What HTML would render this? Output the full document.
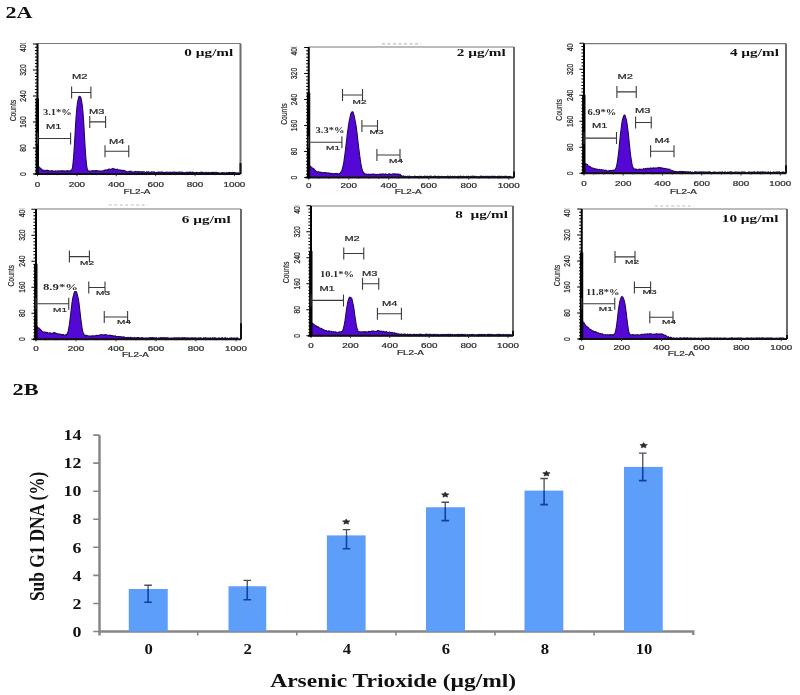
<!DOCTYPE html>
<html><head><meta charset="utf-8"><style>
html,body{margin:0;padding:0;background:#fff;width:800px;height:695px;overflow:hidden}
svg{display:block;filter:blur(0.45px)}
</style></head><body>
<svg width="800" height="695" viewBox="0 0 800 695">
<rect width="800" height="695" fill="#fff"/>
<text transform="translate(5.5,17.5) scale(1.38,1)" font-family="Liberation Serif" font-size="16" font-weight="bold" fill="#111" text-anchor="start" >2A</text>
<path d="M37.5,43.5H240.5" stroke="#7a7a7a" stroke-width="1.2" fill="none"/>
<path d="M240.5,43.5V174" stroke="#6c6c6c" stroke-width="2" fill="none"/>
<path d="M37.5,174 L37.5,166.16 L38,166.44 L38.5,166.24 L39,167.2 L39.5,167.21 L40,167.8 L40.5,168.52 L41,168.55 L41.5,169.41 L42,169.49 L42.5,170.25 L43,170.67 L43.5,170.4 L44,170.08 L44.5,170.75 L45,170.7 L45.5,170.37 L46,170.12 L46.5,170.49 L47,170.69 L47.5,170.2 L48,171.08 L48.5,170.38 L49,170.93 L49.5,171.1 L50,171.16 L50.5,171.02 L51,170.6 L51.5,171.21 L52,170.89 L52.5,170.87 L53,171.11 L53.5,170.96 L54,171.39 L54.5,171.4 L55,171.26 L55.5,170.84 L56,171.07 L56.5,171.17 L57,170.92 L57.5,171.04 L58,171.18 L58.5,170.74 L59,170.82 L59.5,171.23 L60,170.93 L60.5,170.98 L61,170.66 L61.5,170.79 L62,171.19 L62.5,170.57 L63,171.34 L63.5,171.07 L64,170.77 L64.5,171.31 L65,171.01 L65.5,171.41 L66,170.85 L66.5,170.76 L67,170.93 L67.5,170.66 L68,171.17 L68.5,170.82 L69,170.91 L69.5,170.92 L70,171.02 L70.5,170.62 L71,170.36 L71.5,170.33 L72,169.12 L72.5,167.64 L73,163.62 L73.5,158.52 L74,151.36 L74.5,143.34 L75,135.01 L75.5,126.26 L76,118.2 L76.5,112.26 L77,106.75 L77.5,103.16 L78,100.37 L78.5,98.4 L79,96.43 L79.5,96.39 L80,96.35 L80.5,96.98 L81,98.01 L81.5,100.9 L82,103.59 L82.5,107.58 L83,112.68 L83.5,119.53 L84,127.51 L84.5,136.79 L85,145.41 L85.5,153.42 L86,159.48 L86.5,164.21 L87,168.06 L87.5,169.82 L88,170.65 L88.5,171.02 L89,170.93 L89.5,170.87 L90,171.16 L90.5,171.39 L91,171.01 L91.5,171.05 L92,170.87 L92.5,170.51 L93,170.74 L93.5,170.89 L94,170.79 L94.5,170.73 L95,171.29 L95.5,170.52 L96,170.62 L96.5,170.53 L97,170.59 L97.5,170.95 L98,170.94 L98.5,171.2 L99,170.71 L99.5,171.22 L100,171.21 L100.5,171.08 L101,171.11 L101.5,170.94 L102,171.11 L102.5,171.06 L103,170.83 L103.5,170.78 L104,170.45 L104.5,170.65 L105,169.79 L105.5,169.93 L106,170.26 L106.5,170.07 L107,169.89 L107.5,169.78 L108,169.9 L108.5,169.15 L109,168.92 L109.5,169.3 L110,169.19 L110.5,169.45 L111,169.34 L111.5,169.03 L112,169.01 L112.5,168.4 L113,169.1 L113.5,169.32 L114,168.57 L114.5,169.05 L115,169.48 L115.5,169.22 L116,169.78 L116.5,169.42 L117,169.11 L117.5,169.31 L118,169.55 L118.5,170.03 L119,170.03 L119.5,170.31 L120,169.86 L120.5,170.16 L121,170.04 L121.5,170.53 L122,170.72 L122.5,170.29 L123,170.22 L123.5,170.44 L124,170.57 L124.5,170.65 L125,170.82 L125.5,171.37 L126,171.2 L126.5,171.44 L127,171.83 L127.5,171.92 L128,171.72 L128.5,171.75 L129,171.38 L129.5,171.16 L130,171.63 L130.5,171.21 L131,171.18 L131.5,171.23 L132,171.78 L132.5,171.93 L133,171.94 L133.5,171.98 L134,171.99 L134.5,171.63 L135,171.4 L135.5,171.47 L136,171.82 L136.5,171.68 L137,171.56 L137.5,172.22 L138,171.72 L138.5,171.52 L139,171.65 L139.5,171.69 L140,171.96 L140.5,172.24 L141,171.71 L141.5,172.14 L142,171.74 L142.5,171.6 L143,172.14 L143.5,172.15 L144,171.68 L144.5,171.89 L145,172.41 L145.5,172.47 L146,172.46 L146.5,171.8 L147,171.91 L147.5,172.52 L148,171.91 L148.5,171.77 L149,172.07 L149.5,172.35 L150,172.17 L150.5,172.55 L151,172.66 L151.5,171.8 L152,172.09 L152.5,172.21 L153,171.85 L153.5,172.3 L154,171.91 L154.5,171.95 L155,172.51 L155.5,172.48 L156,172.44 L156.5,172.49 L157,172.18 L157.5,172.48 L158,172.34 L158.5,172.6 L159,171.91 L159.5,172.41 L160,172.32 L160.5,172.21 L161,171.92 L161.5,172.36 L162,171.92 L162.5,172.3 L163,172.27 L163.5,172.28 L164,172.74 L164.5,172.36 L165,172.6 L165.5,172.76 L166,172.05 L166.5,172.62 L167,172.35 L167.5,172.13 L168,172.28 L168.5,172.49 L169,172.32 L169.5,172.29 L170,172.09 L170.5,172.7 L171,172.3 L171.5,172.58 L172,172.56 L172.5,172.12 L173,172.36 L173.5,172.31 L174,172.14 L174.5,172 L175,172.43 L175.5,172.28 L176,172.38 L176.5,172.38 L177,172.22 L177.5,172.44 L178,172.37 L178.5,172.42 L179,172.01 L179.5,172.23 L180,172.07 L180.5,172.02 L181,172.63 L181.5,172.37 L182,172.03 L182.5,172.12 L183,172.76 L183.5,172.78 L184,172.49 L184.5,172.83 L185,172.68 L185.5,172.83 L186,172.3 L186.5,172.2 L187,172.1 L187.5,172.77 L188,172.27 L188.5,172.32 L189,172.79 L189.5,172.13 L190,172.06 L190.5,172.73 L191,172.08 L191.5,172.58 L192,172.5 L192.5,172.05 L193,172.2 L193.5,172.8 L194,172.56 L194.5,172.49 L195,172.65 L195.5,172.79 L196,172.68 L196.5,172.32 L197,172.96 L197.5,172.48 L198,172.58 L198.5,172.97 L199,172.69 L199.5,172.43 L200,172.53 L200.5,172.94 L201,172.11 L201.5,172.29 L202,172.13 L202.5,172.91 L203,172.77 L203.5,172.98 L204,172.32 L204.5,172.78 L205,172.91 L205.5,172.65 L206,172.21 L206.5,172.3 L207,172.81 L207.5,172.91 L208,172.22 L208.5,172.53 L209,172.42 L209.5,172.97 L210,173.01 L210.5,172.44 L211,172.68 L211.5,173 L212,172.23 L212.5,172.5 L213,172.36 L213.5,173.01 L214,172.31 L214.5,173.03 L215,172.31 L215.5,172.69 L216,172.79 L216.5,172.6 L217,172.27 L217.5,172.87 L218,172.99 L218.5,172.64 L219,172.9 L219.5,173.02 L220,172.98 L220.5,173.08 L221,172.95 L221.5,172.85 L222,172.86 L222.5,172.46 L223,172.88 L223.5,172.7 L224,172.99 L224.5,172.84 L225,173.14 L225.5,172.93 L226,173.15 L226.5,172.51 L227,172.67 L227.5,173 L228,172.75 L228.5,172.34 L229,173.09 L229.5,172.45 L230,172.8 L230.5,172.75 L231,172.44 L231.5,172.84 L232,172.75 L232.5,172.59 L233,172.32 L233.5,172.9 L234,172.47 L234.5,172.58 L235,172.65 L235.5,172.86 L236,172.91 L236.5,173.18 L237,173.12 L237.5,173.17 L238,172.57 L238.5,173.01 L239,173.1 L239.5,173.17 L239.5,174 Z" fill="#5308d6" stroke="#22085a" stroke-width="1.1" stroke-linejoin="round"/>
<path d="M240.5,174V163" stroke="#111" stroke-width="2"/>
<path d="M34.5,174H240.5" stroke="#101010" stroke-width="2.1" fill="none"/>
<path d="M37.5,174V176.2 M47.34,174V175.2 M57.19,174V175.2 M67.03,174V175.2 M76.88,174V176.2 M86.72,174V175.2 M96.57,174V175.2 M106.41,174V175.2 M116.26,174V176.2 M126.1,174V175.2 M135.95,174V175.2 M145.8,174V175.2 M155.64,174V176.2 M165.49,174V175.2 M175.33,174V175.2 M185.17,174V175.2 M195.02,174V176.2 M204.86,174V175.2 M214.71,174V175.2 M224.55,174V175.2 M234.4,174V176.2" stroke="#222" stroke-width="0.9"/>
<path d="M37.5,43.5V175" stroke="#000" stroke-width="2" fill="none"/>
<path d="M37.3,98.5V174" stroke="#000" stroke-width="3.4" fill="none"/>
<path d="M32.9,174H37.5 M34.9,170.75H37.5 M34.9,167.5H37.5 M34.9,164.25H37.5 M34.9,161H37.5 M34.9,157.75H37.5 M34.9,154.5H37.5 M34.9,151.25H37.5 M32.9,148H37.5 M34.9,144.75H37.5 M34.9,141.5H37.5 M34.9,138.25H37.5 M34.9,135H37.5 M34.9,131.75H37.5 M34.9,128.5H37.5 M34.9,125.25H37.5 M32.9,122H37.5 M34.9,118.75H37.5 M34.9,115.5H37.5 M34.9,112.25H37.5 M34.9,109H37.5 M34.9,105.75H37.5 M34.9,102.5H37.5 M34.9,99.25H37.5 M32.9,96H37.5 M34.9,92.75H37.5 M34.9,89.5H37.5 M34.9,86.25H37.5 M34.9,83H37.5 M34.9,79.75H37.5 M34.9,76.5H37.5 M34.9,73.25H37.5 M32.9,70H37.5 M34.9,66.75H37.5 M34.9,63.5H37.5 M34.9,60.25H37.5 M34.9,57H37.5 M34.9,53.75H37.5 M34.9,50.5H37.5 M34.9,47.25H37.5 M32.9,44H37.5" stroke="#000" stroke-width="1.1"/>
<clipPath id="c37"><rect x="-2.5" y="43.2" width="40" height="200"/></clipPath>
<text transform="translate(26.2,174) rotate(-90) scale(1,1.3)" font-family="Liberation Sans" font-size="6.8" fill="#2a2a2a" stroke="#2a2a2a" stroke-width="0.2" text-anchor="middle">0</text>
<text transform="translate(26.2,148) rotate(-90) scale(1,1.3)" font-family="Liberation Sans" font-size="6.8" fill="#2a2a2a" stroke="#2a2a2a" stroke-width="0.2" text-anchor="middle">80</text>
<text transform="translate(26.2,122) rotate(-90) scale(1,1.3)" font-family="Liberation Sans" font-size="6.8" fill="#2a2a2a" stroke="#2a2a2a" stroke-width="0.2" text-anchor="middle">160</text>
<text transform="translate(26.2,96) rotate(-90) scale(1,1.3)" font-family="Liberation Sans" font-size="6.8" fill="#2a2a2a" stroke="#2a2a2a" stroke-width="0.2" text-anchor="middle">240</text>
<text transform="translate(26.2,70) rotate(-90) scale(1,1.3)" font-family="Liberation Sans" font-size="6.8" fill="#2a2a2a" stroke="#2a2a2a" stroke-width="0.2" text-anchor="middle">320</text>
<g clip-path="url(#c37)"><text transform="translate(26.2,46.3) rotate(-90) scale(1,1.3)" font-family="Liberation Sans" font-size="6.8" fill="#2a2a2a" stroke="#2a2a2a" stroke-width="0.2" text-anchor="middle">400</text></g>
<text transform="translate(15.9,110.6) rotate(-90) scale(1,1.2)" font-family="Liberation Sans" font-size="6.8" fill="#2a2a2a" stroke="#2a2a2a" stroke-width="0.15" text-anchor="middle">Counts</text>
<text transform="translate(37.5,186.5) scale(1.45,1)" font-family="Liberation Sans" font-size="6.8" font-weight="normal" fill="#2a2a2a" text-anchor="middle" stroke="#2a2a2a" stroke-width="0.2">0</text>
<text transform="translate(76.88,186.5) scale(1.45,1)" font-family="Liberation Sans" font-size="6.8" font-weight="normal" fill="#2a2a2a" text-anchor="middle" stroke="#2a2a2a" stroke-width="0.2">200</text>
<text transform="translate(116.26,186.5) scale(1.45,1)" font-family="Liberation Sans" font-size="6.8" font-weight="normal" fill="#2a2a2a" text-anchor="middle" stroke="#2a2a2a" stroke-width="0.2">400</text>
<text transform="translate(155.64,186.5) scale(1.45,1)" font-family="Liberation Sans" font-size="6.8" font-weight="normal" fill="#2a2a2a" text-anchor="middle" stroke="#2a2a2a" stroke-width="0.2">600</text>
<text transform="translate(195.02,186.5) scale(1.45,1)" font-family="Liberation Sans" font-size="6.8" font-weight="normal" fill="#2a2a2a" text-anchor="middle" stroke="#2a2a2a" stroke-width="0.2">800</text>
<text transform="translate(234.4,186.5) scale(1.45,1)" font-family="Liberation Sans" font-size="6.8" font-weight="normal" fill="#2a2a2a" text-anchor="middle" stroke="#2a2a2a" stroke-width="0.2">1000</text>
<text transform="translate(137,193.5) scale(1.45,1)" font-family="Liberation Sans" font-size="6.8" font-weight="normal" fill="#2a2a2a" text-anchor="middle" stroke="#2a2a2a" stroke-width="0.2">FL2-A</text>
<text transform="translate(233.3,56.1) scale(1.48,1)" font-family="Liberation Serif" font-size="10.3" font-weight="bold" fill="#111" text-anchor="end" >0 µg/ml</text>
<path d="M37.5,138.5H70.6M37.5,132.5V144.5M70.6,132.5V144.5" stroke="#3a3a3a" stroke-width="1.1" fill="none"/>
<path d="M71.6,92.5H90.9M71.6,86.5V98.5M90.9,86.5V98.5" stroke="#3a3a3a" stroke-width="1.1" fill="none"/>
<path d="M89.75,121.9H105.6M89.75,115.9V127.9M105.6,115.9V127.9" stroke="#3a3a3a" stroke-width="1.1" fill="none"/>
<path d="M105,151.25H128.75M105,145.25V157.25M128.75,145.25V157.25" stroke="#3a3a3a" stroke-width="1.1" fill="none"/>
<text transform="translate(46,129) scale(1.68,1)" font-family="Liberation Sans" font-size="6.6" font-weight="normal" fill="#2a2a2a" text-anchor="start" stroke="#2a2a2a" stroke-width="0.2">M1</text>
<text transform="translate(72,78.8) scale(1.68,1)" font-family="Liberation Sans" font-size="6.6" font-weight="normal" fill="#2a2a2a" text-anchor="start" stroke="#2a2a2a" stroke-width="0.2">M2</text>
<text transform="translate(89,113.8) scale(1.68,1)" font-family="Liberation Sans" font-size="6.6" font-weight="normal" fill="#2a2a2a" text-anchor="start" stroke="#2a2a2a" stroke-width="0.2">M3</text>
<text transform="translate(109,143.8) scale(1.68,1)" font-family="Liberation Sans" font-size="6.6" font-weight="normal" fill="#2a2a2a" text-anchor="start" stroke="#2a2a2a" stroke-width="0.2">M4</text>
<text transform="translate(43,115) scale(1.42,1)" font-family="Liberation Serif" font-size="7.4" font-weight="bold" fill="#2a2a2a" text-anchor="start" >3.1*%</text>
<path d="M308.75,47H514" stroke="#7a7a7a" stroke-width="1.2" fill="none"/>
<path d="M514,47V177.5" stroke="#6c6c6c" stroke-width="2" fill="none"/>
<path d="M308.75,177.5 L308.75,164.19 L309.25,164.63 L309.75,165.28 L310.25,166.1 L310.75,166.6 L311.25,167.02 L311.75,167.34 L312.25,168.07 L312.75,168.28 L313.25,168.91 L313.75,168.75 L314.25,169.21 L314.75,170.06 L315.25,170.8 L315.75,170.61 L316.25,171.67 L316.75,171.7 L317.25,172.09 L317.75,171.82 L318.25,171.81 L318.75,171.85 L319.25,172.19 L319.75,171.99 L320.25,172.51 L320.75,172.35 L321.25,172.58 L321.75,172.37 L322.25,172.76 L322.75,172.85 L323.25,172.67 L323.75,172.8 L324.25,172.56 L324.75,172.68 L325.25,172.55 L325.75,172.7 L326.25,172.72 L326.75,172.64 L327.25,173.16 L327.75,173.28 L328.25,172.76 L328.75,173.58 L329.25,173.14 L329.75,173.28 L330.25,173.89 L330.75,173.25 L331.25,173.27 L331.75,173.58 L332.25,173.55 L332.75,173.52 L333.25,174.12 L333.75,173.78 L334.25,173.8 L334.75,173.5 L335.25,173.52 L335.75,173.5 L336.25,173.72 L336.75,173.43 L337.25,173.6 L337.75,173.58 L338.25,173.96 L338.75,174.06 L339.25,173.84 L339.75,173.41 L340.25,173.3 L340.75,172.12 L341.25,171.63 L341.75,170.53 L342.25,169.15 L342.75,167.31 L343.25,165.25 L343.75,162.99 L344.25,159.1 L344.75,155.55 L345.25,151.81 L345.75,147.56 L346.25,143.09 L346.75,139.26 L347.25,134.42 L347.75,130.88 L348.25,127.41 L348.75,124.01 L349.25,120.77 L349.75,118.76 L350.25,116.11 L350.75,114.02 L351.25,112.97 L351.75,112.12 L352.25,111.73 L352.75,111.87 L353.25,112.77 L353.75,114.42 L354.25,116.3 L354.75,119.02 L355.25,121.45 L355.75,124.21 L356.25,127.03 L356.75,131.08 L357.25,134.85 L357.75,139.61 L358.25,143.96 L358.75,148.16 L359.25,152.05 L359.75,156.01 L360.25,159.65 L360.75,163.2 L361.25,165.72 L361.75,168.03 L362.25,169.85 L362.75,171.57 L363.25,171.91 L363.75,173.29 L364.25,173.11 L364.75,173.5 L365.25,174.56 L365.75,174.3 L366.25,174.06 L366.75,173.98 L367.25,174.47 L367.75,174.64 L368.25,174.69 L368.75,174.03 L369.25,174.69 L369.75,174.35 L370.25,174.74 L370.75,174.39 L371.25,174 L371.75,174.73 L372.25,174.11 L372.75,174.38 L373.25,174.04 L373.75,174.2 L374.25,174.62 L374.75,174.01 L375.25,174.38 L375.75,174.79 L376.25,174.8 L376.75,174.36 L377.25,174.39 L377.75,174.52 L378.25,174.66 L378.75,174.47 L379.25,174.49 L379.75,174.01 L380.25,174.76 L380.75,174.08 L381.25,174 L381.75,174.64 L382.25,173.91 L382.75,174.09 L383.25,173.92 L383.75,174.46 L384.25,174.38 L384.75,174.36 L385.25,173.81 L385.75,174.17 L386.25,174.37 L386.75,174.31 L387.25,174.44 L387.75,174.64 L388.25,174.59 L388.75,173.92 L389.25,174.41 L389.75,173.82 L390.25,174.43 L390.75,174.41 L391.25,174.19 L391.75,174.48 L392.25,174.31 L392.75,173.79 L393.25,173.85 L393.75,173.92 L394.25,174.08 L394.75,173.83 L395.25,173.8 L395.75,174.16 L396.25,174 L396.75,174.61 L397.25,173.99 L397.75,174.24 L398.25,173.97 L398.75,174.07 L399.25,174.39 L399.75,174.61 L400.25,174.22 L400.75,175.34 L401.25,175.44 L401.75,175.96 L402.25,176.4 L402.75,176.1 L403.25,175.91 L403.75,176.58 L404.25,176.25 L404.75,176.59 L405.25,176.38 L405.75,176.55 L406.25,176.78 L406.75,176.8 L407.25,176.76 L407.75,176.14 L408.25,176.5 L408.75,176.75 L409.25,176.14 L409.75,176.06 L410.25,176.55 L410.75,176.8 L411.25,176.78 L411.75,176.8 L412.25,176.65 L412.75,176.8 L413.25,176.74 L413.75,176.72 L414.25,176.44 L414.75,176.16 L415.25,176.28 L415.75,176.59 L416.25,176.59 L416.75,176.49 L417.25,176.62 L417.75,176.66 L418.25,176.8 L418.75,176.71 L419.25,176.09 L419.75,176.8 L420.25,176.51 L420.75,176.4 L421.25,176.19 L421.75,176.77 L422.25,176.72 L422.75,176.74 L423.25,176.61 L423.75,176.57 L424.25,176.11 L424.75,176.2 L425.25,176.18 L425.75,176.8 L426.25,176.8 L426.75,176.33 L427.25,176.16 L427.75,176.54 L428.25,176.44 L428.75,176.8 L429.25,176.62 L429.75,176.14 L430.25,176.23 L430.75,176.2 L431.25,176.1 L431.75,176.75 L432.25,176.8 L432.75,176.8 L433.25,176.51 L433.75,176.36 L434.25,176.13 L434.75,176.33 L435.25,176.39 L435.75,176.29 L436.25,176.57 L436.75,176.48 L437.25,176.8 L437.75,176.28 L438.25,176.77 L438.75,176.15 L439.25,176.4 L439.75,176.71 L440.25,176.8 L440.75,176.76 L441.25,176.41 L441.75,176.35 L442.25,176.8 L442.75,176.8 L443.25,176.51 L443.75,176.46 L444.25,176.64 L444.75,176.79 L445.25,176.45 L445.75,176.8 L446.25,176.72 L446.75,176.57 L447.25,176.13 L447.75,176.41 L448.25,176.19 L448.75,176.56 L449.25,176.78 L449.75,176.77 L450.25,176.13 L450.75,176.36 L451.25,176.72 L451.75,176.8 L452.25,176.55 L452.75,176.39 L453.25,176.62 L453.75,176.76 L454.25,176.4 L454.75,176.16 L455.25,176.79 L455.75,176.8 L456.25,176.69 L456.75,176.62 L457.25,176.38 L457.75,176.8 L458.25,176.28 L458.75,176.33 L459.25,176.55 L459.75,176.8 L460.25,176.13 L460.75,176.72 L461.25,176.26 L461.75,176.8 L462.25,176.8 L462.75,176.32 L463.25,176.74 L463.75,176.15 L464.25,176.56 L464.75,176.8 L465.25,176.8 L465.75,176.63 L466.25,176.41 L466.75,176.15 L467.25,176.8 L467.75,176.65 L468.25,176.8 L468.75,176.13 L469.25,176.8 L469.75,176.8 L470.25,176.8 L470.75,176.66 L471.25,176.2 L471.75,176.22 L472.25,176.35 L472.75,176.12 L473.25,176.18 L473.75,176.72 L474.25,176.8 L474.75,176.17 L475.25,176.34 L475.75,176.8 L476.25,176.42 L476.75,176.68 L477.25,176.68 L477.75,176.72 L478.25,176.8 L478.75,176.8 L479.25,176.77 L479.75,176.7 L480.25,176.16 L480.75,176.8 L481.25,176.15 L481.75,176.8 L482.25,176.7 L482.75,176.28 L483.25,176.28 L483.75,176.63 L484.25,176.8 L484.75,176.6 L485.25,176.69 L485.75,176.2 L486.25,176.8 L486.75,176.7 L487.25,176.22 L487.75,176.8 L488.25,176.66 L488.75,176.3 L489.25,176.34 L489.75,176.8 L490.25,176.8 L490.75,176.8 L491.25,176.2 L491.75,176.8 L492.25,176.36 L492.75,176.22 L493.25,176.73 L493.75,176.79 L494.25,176.17 L494.75,176.48 L495.25,176.8 L495.75,176.39 L496.25,176.75 L496.75,176.79 L497.25,176.8 L497.75,176.36 L498.25,176.21 L498.75,176.47 L499.25,176.19 L499.75,176.8 L500.25,176.8 L500.75,176.61 L501.25,176.18 L501.75,176.18 L502.25,176.69 L502.75,176.8 L503.25,176.66 L503.75,176.6 L504.25,176.21 L504.75,176.8 L505.25,176.32 L505.75,176.38 L506.25,176.31 L506.75,176.35 L507.25,176.5 L507.75,176.75 L508.25,176.76 L508.75,176.72 L509.25,176.34 L509.75,176.8 L510.25,176.8 L510.75,176.37 L510.75,177.5 Z" fill="#5308d6" stroke="#22085a" stroke-width="1.1" stroke-linejoin="round"/>
<path d="M514,177.5V171.5" stroke="#111" stroke-width="2"/>
<path d="M305.75,177.5H514" stroke="#101010" stroke-width="2.1" fill="none"/>
<path d="M308.75,177.5V179.7 M318.75,177.5V178.7 M328.75,177.5V178.7 M338.75,177.5V178.7 M348.75,177.5V179.7 M358.75,177.5V178.7 M368.75,177.5V178.7 M378.75,177.5V178.7 M388.75,177.5V179.7 M398.75,177.5V178.7 M408.75,177.5V178.7 M418.75,177.5V178.7 M428.75,177.5V179.7 M438.75,177.5V178.7 M448.75,177.5V178.7 M458.75,177.5V178.7 M468.75,177.5V179.7 M478.75,177.5V178.7 M488.75,177.5V178.7 M498.75,177.5V178.7 M508.75,177.5V179.7" stroke="#222" stroke-width="0.9"/>
<path d="M308.75,47V178.5" stroke="#000" stroke-width="2" fill="none"/>
<path d="M308.55,92.5V177.5" stroke="#000" stroke-width="3.4" fill="none"/>
<path d="M304.15,177.5H308.75 M306.15,174.25H308.75 M306.15,171H308.75 M306.15,167.75H308.75 M306.15,164.5H308.75 M306.15,161.25H308.75 M306.15,158H308.75 M306.15,154.75H308.75 M304.15,151.5H308.75 M306.15,148.25H308.75 M306.15,145H308.75 M306.15,141.75H308.75 M306.15,138.5H308.75 M306.15,135.25H308.75 M306.15,132H308.75 M306.15,128.75H308.75 M304.15,125.5H308.75 M306.15,122.25H308.75 M306.15,119H308.75 M306.15,115.75H308.75 M306.15,112.5H308.75 M306.15,109.25H308.75 M306.15,106H308.75 M306.15,102.75H308.75 M304.15,99.5H308.75 M306.15,96.25H308.75 M306.15,93H308.75 M306.15,89.75H308.75 M306.15,86.5H308.75 M306.15,83.25H308.75 M306.15,80H308.75 M306.15,76.75H308.75 M304.15,73.5H308.75 M306.15,70.25H308.75 M306.15,67H308.75 M306.15,63.75H308.75 M306.15,60.5H308.75 M306.15,57.25H308.75 M306.15,54H308.75 M306.15,50.75H308.75 M304.15,47.5H308.75" stroke="#000" stroke-width="1.1"/>
<clipPath id="c308"><rect x="268.75" y="46.7" width="40" height="200"/></clipPath>
<text transform="translate(297.45,177.5) rotate(-90) scale(1,1.3)" font-family="Liberation Sans" font-size="6.8" fill="#2a2a2a" stroke="#2a2a2a" stroke-width="0.2" text-anchor="middle">0</text>
<text transform="translate(297.45,151.5) rotate(-90) scale(1,1.3)" font-family="Liberation Sans" font-size="6.8" fill="#2a2a2a" stroke="#2a2a2a" stroke-width="0.2" text-anchor="middle">80</text>
<text transform="translate(297.45,125.5) rotate(-90) scale(1,1.3)" font-family="Liberation Sans" font-size="6.8" fill="#2a2a2a" stroke="#2a2a2a" stroke-width="0.2" text-anchor="middle">160</text>
<text transform="translate(297.45,99.5) rotate(-90) scale(1,1.3)" font-family="Liberation Sans" font-size="6.8" fill="#2a2a2a" stroke="#2a2a2a" stroke-width="0.2" text-anchor="middle">240</text>
<text transform="translate(297.45,73.5) rotate(-90) scale(1,1.3)" font-family="Liberation Sans" font-size="6.8" fill="#2a2a2a" stroke="#2a2a2a" stroke-width="0.2" text-anchor="middle">320</text>
<g clip-path="url(#c308)"><text transform="translate(297.45,49.8) rotate(-90) scale(1,1.3)" font-family="Liberation Sans" font-size="6.8" fill="#2a2a2a" stroke="#2a2a2a" stroke-width="0.2" text-anchor="middle">400</text></g>
<text transform="translate(287.15,114.1) rotate(-90) scale(1,1.2)" font-family="Liberation Sans" font-size="6.8" fill="#2a2a2a" stroke="#2a2a2a" stroke-width="0.15" text-anchor="middle">Counts</text>
<text transform="translate(308.75,188.1) scale(1.45,1)" font-family="Liberation Sans" font-size="6.8" font-weight="normal" fill="#2a2a2a" text-anchor="middle" stroke="#2a2a2a" stroke-width="0.2">0</text>
<text transform="translate(348.75,188.1) scale(1.45,1)" font-family="Liberation Sans" font-size="6.8" font-weight="normal" fill="#2a2a2a" text-anchor="middle" stroke="#2a2a2a" stroke-width="0.2">200</text>
<text transform="translate(388.75,188.1) scale(1.45,1)" font-family="Liberation Sans" font-size="6.8" font-weight="normal" fill="#2a2a2a" text-anchor="middle" stroke="#2a2a2a" stroke-width="0.2">400</text>
<text transform="translate(428.75,188.1) scale(1.45,1)" font-family="Liberation Sans" font-size="6.8" font-weight="normal" fill="#2a2a2a" text-anchor="middle" stroke="#2a2a2a" stroke-width="0.2">600</text>
<text transform="translate(468.75,188.1) scale(1.45,1)" font-family="Liberation Sans" font-size="6.8" font-weight="normal" fill="#2a2a2a" text-anchor="middle" stroke="#2a2a2a" stroke-width="0.2">800</text>
<text transform="translate(508.75,188.1) scale(1.45,1)" font-family="Liberation Sans" font-size="6.8" font-weight="normal" fill="#2a2a2a" text-anchor="middle" stroke="#2a2a2a" stroke-width="0.2">1000</text>
<text transform="translate(408.25,193.75) scale(1.45,1)" font-family="Liberation Sans" font-size="6.8" font-weight="normal" fill="#2a2a2a" text-anchor="middle" stroke="#2a2a2a" stroke-width="0.2">FL2-A</text>
<text transform="translate(505.8,56) scale(1.48,1)" font-family="Liberation Serif" font-size="10.3" font-weight="bold" fill="#111" text-anchor="end" >2 µg/ml</text>
<path d="M308.75,142.25H341.9M308.75,136.25V148.25M341.9,136.25V148.25" stroke="#3a3a3a" stroke-width="1.1" fill="none"/>
<path d="M342.5,95H362.5M342.5,89V101M362.5,89V101" stroke="#3a3a3a" stroke-width="1.1" fill="none"/>
<path d="M361.9,126H377.5M361.9,120V132M377.5,120V132" stroke="#3a3a3a" stroke-width="1.1" fill="none"/>
<path d="M376.9,155H400M376.9,149V161M400,149V161" stroke="#3a3a3a" stroke-width="1.1" fill="none"/>
<text transform="translate(326,149.9) scale(1.68,1)" font-family="Liberation Sans" font-size="6" font-weight="normal" fill="#2a2a2a" text-anchor="start" stroke="#2a2a2a" stroke-width="0.2">M1</text>
<text transform="translate(352.5,104.2) scale(1.68,1)" font-family="Liberation Sans" font-size="6" font-weight="normal" fill="#2a2a2a" text-anchor="start" stroke="#2a2a2a" stroke-width="0.2">M2</text>
<text transform="translate(369.5,134.2) scale(1.68,1)" font-family="Liberation Sans" font-size="6" font-weight="normal" fill="#2a2a2a" text-anchor="start" stroke="#2a2a2a" stroke-width="0.2">M3</text>
<text transform="translate(389,163) scale(1.68,1)" font-family="Liberation Sans" font-size="6" font-weight="normal" fill="#2a2a2a" text-anchor="start" stroke="#2a2a2a" stroke-width="0.2">M4</text>
<text transform="translate(315.6,133) scale(1.42,1)" font-family="Liberation Serif" font-size="7.4" font-weight="bold" fill="#2a2a2a" text-anchor="start" >3.3*%</text>
<path d="M382,43.8H421" stroke="#bbb" stroke-width="1.2" stroke-dasharray="3,2.5"/>
<path d="M584,43.6H786" stroke="#7a7a7a" stroke-width="1.2" fill="none"/>
<path d="M786,43.6V173.3" stroke="#6c6c6c" stroke-width="2" fill="none"/>
<path d="M584,173.3 L584,163.03 L584.5,163.51 L585,163.86 L585.5,163.71 L586,164.24 L586.5,163.97 L587,164.38 L587.5,164.6 L588,165.57 L588.5,166.06 L589,166.37 L589.5,166.32 L590,166.45 L590.5,167.01 L591,167.52 L591.5,167.68 L592,167.82 L592.5,168.09 L593,168.29 L593.5,168.29 L594,168.53 L594.5,169.1 L595,168.54 L595.5,169.11 L596,168.95 L596.5,169.21 L597,168.96 L597.5,169.53 L598,169.57 L598.5,169.65 L599,169.81 L599.5,169.24 L600,169.6 L600.5,169.91 L601,169.93 L601.5,169.47 L602,169.99 L602.5,170.32 L603,169.88 L603.5,170.1 L604,169.88 L604.5,170.76 L605,170.51 L605.5,170.28 L606,170.35 L606.5,170.36 L607,171.23 L607.5,171.09 L608,171.22 L608.5,171.13 L609,170.39 L609.5,170.72 L610,170.38 L610.5,170.85 L611,170.38 L611.5,170.73 L612,170.87 L612.5,170.36 L613,170.16 L613.5,170.82 L614,170.23 L614.5,169.95 L615,169.87 L615.5,169.02 L616,168.13 L616.5,166.47 L617,164.21 L617.5,161.01 L618,157.39 L618.5,153.6 L619,149.09 L619.5,143.86 L620,138.56 L620.5,134.23 L621,129.76 L621.5,126.01 L622,122.21 L622.5,119.72 L623,118.02 L623.5,116.46 L624,115.35 L624.5,115.01 L625,115.33 L625.5,116.89 L626,118.56 L626.5,120.4 L627,123.54 L627.5,127.11 L628,131.1 L628.5,135.02 L629,140.43 L629.5,145.15 L630,150.16 L630.5,154.56 L631,158.08 L631.5,161.21 L632,164.35 L632.5,166.41 L633,167.27 L633.5,168.62 L634,169.34 L634.5,168.84 L635,169.43 L635.5,169.15 L636,169.54 L636.5,169.11 L637,169.47 L637.5,169.72 L638,169.83 L638.5,169.33 L639,169.22 L639.5,168.96 L640,169.67 L640.5,169.16 L641,169.35 L641.5,169.2 L642,169.49 L642.5,169.33 L643,169.08 L643.5,168.67 L644,169.36 L644.5,168.97 L645,168.64 L645.5,168.45 L646,169.1 L646.5,169.12 L647,168.34 L647.5,168.26 L648,168.66 L648.5,169 L649,168.17 L649.5,168.61 L650,168.1 L650.5,168.31 L651,168.08 L651.5,168.63 L652,168.02 L652.5,168.49 L653,168.28 L653.5,167.83 L654,167.8 L654.5,168.34 L655,168.26 L655.5,168.05 L656,167.9 L656.5,167.98 L657,168.17 L657.5,168.01 L658,167.53 L658.5,167.33 L659,168.06 L659.5,167.54 L660,167.46 L660.5,168.19 L661,167.56 L661.5,168.3 L662,167.96 L662.5,168.09 L663,168.11 L663.5,168.49 L664,168.48 L664.5,168.42 L665,168.65 L665.5,168.53 L666,168.81 L666.5,168.91 L667,169.37 L667.5,168.92 L668,169.13 L668.5,169.45 L669,169.06 L669.5,169.23 L670,169.7 L670.5,170.13 L671,170.04 L671.5,170.55 L672,170.71 L672.5,170.62 L673,171.1 L673.5,170.96 L674,171.08 L674.5,171.68 L675,171.33 L675.5,172 L676,171.5 L676.5,171.47 L677,171.73 L677.5,172.15 L678,171.76 L678.5,171.89 L679,171.38 L679.5,172.13 L680,171.5 L680.5,171.38 L681,171.64 L681.5,171.57 L682,172.15 L682.5,171.45 L683,171.91 L683.5,171.5 L684,171.55 L684.5,172.24 L685,171.69 L685.5,171.58 L686,172.37 L686.5,172.13 L687,171.78 L687.5,172.33 L688,171.68 L688.5,172.25 L689,171.78 L689.5,172.4 L690,172.09 L690.5,171.73 L691,172.38 L691.5,172.35 L692,172.14 L692.5,172.32 L693,172.59 L693.5,172.47 L694,172.5 L694.5,171.81 L695,172.04 L695.5,171.85 L696,172.5 L696.5,171.95 L697,172.55 L697.5,172.18 L698,172.08 L698.5,172.33 L699,171.87 L699.5,172.16 L700,172.13 L700.5,171.86 L701,172.56 L701.5,171.76 L702,172.09 L702.5,172.3 L703,171.94 L703.5,172.42 L704,171.77 L704.5,172.14 L705,172.34 L705.5,171.97 L706,172.26 L706.5,172.5 L707,171.99 L707.5,172.6 L708,171.93 L708.5,172.44 L709,172.09 L709.5,171.78 L710,172.14 L710.5,172.07 L711,172.39 L711.5,172.6 L712,172.6 L712.5,172.54 L713,172.12 L713.5,172.28 L714,172.21 L714.5,171.87 L715,172.55 L715.5,172.47 L716,172.09 L716.5,172.6 L717,172.6 L717.5,172.36 L718,172.58 L718.5,172.36 L719,172.48 L719.5,172.15 L720,172.15 L720.5,172.5 L721,172.12 L721.5,172.25 L722,172.56 L722.5,171.84 L723,172.46 L723.5,172.55 L724,172.6 L724.5,172.11 L725,171.9 L725.5,171.98 L726,172.32 L726.5,172.45 L727,172.6 L727.5,172.11 L728,172.18 L728.5,172.37 L729,172.11 L729.5,172.29 L730,171.85 L730.5,172.03 L731,172.47 L731.5,171.88 L732,172.6 L732.5,172.21 L733,172.33 L733.5,172.48 L734,172.6 L734.5,171.99 L735,172.6 L735.5,172.2 L736,171.85 L736.5,172.57 L737,172.52 L737.5,172.15 L738,172.24 L738.5,172.12 L739,171.97 L739.5,172.54 L740,172.42 L740.5,172.43 L741,172.6 L741.5,171.9 L742,172 L742.5,172.06 L743,172.6 L743.5,171.94 L744,172.03 L744.5,172.29 L745,172.04 L745.5,172.3 L746,172.5 L746.5,172.6 L747,172.5 L747.5,172.6 L748,172.41 L748.5,172.03 L749,172.08 L749.5,171.95 L750,172.07 L750.5,172.47 L751,172.21 L751.5,172.32 L752,172 L752.5,172.24 L753,172.48 L753.5,172.14 L754,171.85 L754.5,172.52 L755,171.92 L755.5,172.6 L756,172.48 L756.5,172.51 L757,172.05 L757.5,171.87 L758,172.05 L758.5,172.43 L759,171.93 L759.5,172.43 L760,172.51 L760.5,171.91 L761,172.16 L761.5,172.1 L762,172.13 L762.5,171.84 L763,172.3 L763.5,171.97 L764,172.1 L764.5,171.95 L765,172.33 L765.5,172.08 L766,172.21 L766.5,172.45 L767,172.54 L767.5,172.17 L768,172.6 L768.5,171.91 L769,172.6 L769.5,172.6 L770,172.6 L770.5,171.9 L771,172.42 L771.5,172.6 L772,172.6 L772.5,172.6 L773,172.11 L773.5,172.17 L774,172.11 L774.5,172.07 L775,172.6 L775.5,172.21 L776,172.41 L776.5,172 L777,172 L777.5,171.94 L778,172.6 L778.5,171.96 L779,171.92 L779.5,171.89 L780,172.6 L780.5,172.56 L781,172.6 L781.5,172.6 L782,171.98 L782.5,172.02 L783,172.18 L783.5,172 L784,172.18 L784.5,172.49 L785,172.6 L785.5,172.6 L786,172.07 L786,173.3 Z" fill="#5308d6" stroke="#22085a" stroke-width="1.1" stroke-linejoin="round"/>
<path d="M786,173.3V165.3" stroke="#111" stroke-width="2"/>
<path d="M581,173.3H786" stroke="#101010" stroke-width="2.1" fill="none"/>
<path d="M584,173.3V175.5 M593.82,173.3V174.5 M603.63,173.3V174.5 M613.45,173.3V174.5 M623.26,173.3V175.5 M633.08,173.3V174.5 M642.89,173.3V174.5 M652.71,173.3V174.5 M662.52,173.3V175.5 M672.34,173.3V174.5 M682.15,173.3V174.5 M691.97,173.3V174.5 M701.78,173.3V175.5 M711.6,173.3V174.5 M721.41,173.3V174.5 M731.23,173.3V174.5 M741.04,173.3V175.5 M750.86,173.3V174.5 M760.67,173.3V174.5 M770.49,173.3V174.5 M780.3,173.3V175.5" stroke="#222" stroke-width="0.9"/>
<path d="M584,43.6V174.3" stroke="#000" stroke-width="2" fill="none"/>
<path d="M583.8,95V173.3" stroke="#000" stroke-width="3.4" fill="none"/>
<path d="M579.4,173.3H584 M581.4,170.05H584 M581.4,166.8H584 M581.4,163.55H584 M581.4,160.3H584 M581.4,157.05H584 M581.4,153.8H584 M581.4,150.55H584 M579.4,147.3H584 M581.4,144.05H584 M581.4,140.8H584 M581.4,137.55H584 M581.4,134.3H584 M581.4,131.05H584 M581.4,127.8H584 M581.4,124.55H584 M579.4,121.3H584 M581.4,118.05H584 M581.4,114.8H584 M581.4,111.55H584 M581.4,108.3H584 M581.4,105.05H584 M581.4,101.8H584 M581.4,98.55H584 M579.4,95.3H584 M581.4,92.05H584 M581.4,88.8H584 M581.4,85.55H584 M581.4,82.3H584 M581.4,79.05H584 M581.4,75.8H584 M581.4,72.55H584 M579.4,69.3H584 M581.4,66.05H584 M581.4,62.8H584 M581.4,59.55H584 M581.4,56.3H584 M581.4,53.05H584 M581.4,49.8H584 M581.4,46.55H584 M579.4,43.3H584" stroke="#000" stroke-width="1.1"/>
<clipPath id="c584"><rect x="544" y="43.3" width="40" height="200"/></clipPath>
<text transform="translate(572.7,173.3) rotate(-90) scale(1,1.3)" font-family="Liberation Sans" font-size="6.8" fill="#2a2a2a" stroke="#2a2a2a" stroke-width="0.2" text-anchor="middle">0</text>
<text transform="translate(572.7,147.3) rotate(-90) scale(1,1.3)" font-family="Liberation Sans" font-size="6.8" fill="#2a2a2a" stroke="#2a2a2a" stroke-width="0.2" text-anchor="middle">80</text>
<text transform="translate(572.7,121.3) rotate(-90) scale(1,1.3)" font-family="Liberation Sans" font-size="6.8" fill="#2a2a2a" stroke="#2a2a2a" stroke-width="0.2" text-anchor="middle">160</text>
<text transform="translate(572.7,95.3) rotate(-90) scale(1,1.3)" font-family="Liberation Sans" font-size="6.8" fill="#2a2a2a" stroke="#2a2a2a" stroke-width="0.2" text-anchor="middle">240</text>
<text transform="translate(572.7,69.3) rotate(-90) scale(1,1.3)" font-family="Liberation Sans" font-size="6.8" fill="#2a2a2a" stroke="#2a2a2a" stroke-width="0.2" text-anchor="middle">320</text>
<g clip-path="url(#c584)"><text transform="translate(572.7,45.6) rotate(-90) scale(1,1.3)" font-family="Liberation Sans" font-size="6.8" fill="#2a2a2a" stroke="#2a2a2a" stroke-width="0.2" text-anchor="middle">400</text></g>
<text transform="translate(562.4,109.9) rotate(-90) scale(1,1.2)" font-family="Liberation Sans" font-size="6.8" fill="#2a2a2a" stroke="#2a2a2a" stroke-width="0.15" text-anchor="middle">Counts</text>
<text transform="translate(584,186.3) scale(1.45,1)" font-family="Liberation Sans" font-size="6.8" font-weight="normal" fill="#2a2a2a" text-anchor="middle" stroke="#2a2a2a" stroke-width="0.2">0</text>
<text transform="translate(623.26,186.3) scale(1.45,1)" font-family="Liberation Sans" font-size="6.8" font-weight="normal" fill="#2a2a2a" text-anchor="middle" stroke="#2a2a2a" stroke-width="0.2">200</text>
<text transform="translate(662.52,186.3) scale(1.45,1)" font-family="Liberation Sans" font-size="6.8" font-weight="normal" fill="#2a2a2a" text-anchor="middle" stroke="#2a2a2a" stroke-width="0.2">400</text>
<text transform="translate(701.78,186.3) scale(1.45,1)" font-family="Liberation Sans" font-size="6.8" font-weight="normal" fill="#2a2a2a" text-anchor="middle" stroke="#2a2a2a" stroke-width="0.2">600</text>
<text transform="translate(741.04,186.3) scale(1.45,1)" font-family="Liberation Sans" font-size="6.8" font-weight="normal" fill="#2a2a2a" text-anchor="middle" stroke="#2a2a2a" stroke-width="0.2">800</text>
<text transform="translate(780.3,186.3) scale(1.45,1)" font-family="Liberation Sans" font-size="6.8" font-weight="normal" fill="#2a2a2a" text-anchor="middle" stroke="#2a2a2a" stroke-width="0.2">1000</text>
<text transform="translate(683.5,193.7) scale(1.45,1)" font-family="Liberation Sans" font-size="6.8" font-weight="normal" fill="#2a2a2a" text-anchor="middle" stroke="#2a2a2a" stroke-width="0.2">FL2-A</text>
<text transform="translate(778.9,56.1) scale(1.48,1)" font-family="Liberation Serif" font-size="10.3" font-weight="bold" fill="#111" text-anchor="end" >4 µg/ml</text>
<path d="M584,138.1H616.5M584,132.1V144.1M616.5,132.1V144.1" stroke="#3a3a3a" stroke-width="1.1" fill="none"/>
<path d="M616.9,91.9H636.25M616.9,85.9V97.9M636.25,85.9V97.9" stroke="#3a3a3a" stroke-width="1.1" fill="none"/>
<path d="M635.6,122.5H651.25M635.6,116.5V128.5M651.25,116.5V128.5" stroke="#3a3a3a" stroke-width="1.1" fill="none"/>
<path d="M650.6,151.25H674M650.6,145.25V157.25M674,145.25V157.25" stroke="#3a3a3a" stroke-width="1.1" fill="none"/>
<text transform="translate(592,128) scale(1.68,1)" font-family="Liberation Sans" font-size="6.6" font-weight="normal" fill="#2a2a2a" text-anchor="start" stroke="#2a2a2a" stroke-width="0.2">M1</text>
<text transform="translate(617.5,78.8) scale(1.68,1)" font-family="Liberation Sans" font-size="6.6" font-weight="normal" fill="#2a2a2a" text-anchor="start" stroke="#2a2a2a" stroke-width="0.2">M2</text>
<text transform="translate(635,113) scale(1.68,1)" font-family="Liberation Sans" font-size="6.6" font-weight="normal" fill="#2a2a2a" text-anchor="start" stroke="#2a2a2a" stroke-width="0.2">M3</text>
<text transform="translate(654.4,143) scale(1.68,1)" font-family="Liberation Sans" font-size="6.6" font-weight="normal" fill="#2a2a2a" text-anchor="start" stroke="#2a2a2a" stroke-width="0.2">M4</text>
<text transform="translate(587.5,114.5) scale(1.42,1)" font-family="Liberation Serif" font-size="7.4" font-weight="bold" fill="#2a2a2a" text-anchor="start" >6.9*%</text>
<path d="M36,209H241" stroke="#7a7a7a" stroke-width="1.2" fill="none"/>
<path d="M241,209V339.2" stroke="#6c6c6c" stroke-width="2" fill="none"/>
<path d="M36,339.2 L36,325.67 L36.5,326.06 L37,326.45 L37.5,327.31 L38,327.59 L38.5,328.06 L39,328.16 L39.5,328.97 L40,329.5 L40.5,329.41 L41,330.32 L41.5,330.5 L42,331.2 L42.5,332.22 L43,332.04 L43.5,332.1 L44,331.88 L44.5,332.35 L45,332.11 L45.5,332.34 L46,332.71 L46.5,332.21 L47,332.99 L47.5,332.41 L48,333.08 L48.5,333.31 L49,333.21 L49.5,332.79 L50,332.68 L50.5,333.64 L51,333.28 L51.5,333.36 L52,333.17 L52.5,333.73 L53,333.2 L53.5,333.09 L54,332.4 L54.5,333.08 L55,332.63 L55.5,333.38 L56,333.61 L56.5,333.33 L57,333.68 L57.5,334.19 L58,333.88 L58.5,334.46 L59,333.9 L59.5,334.07 L60,334.07 L60.5,334.29 L61,334.62 L61.5,334.66 L62,334.74 L62.5,334.38 L63,335.18 L63.5,334.54 L64,335.39 L64.5,335.3 L65,335.3 L65.5,334.72 L66,334.94 L66.5,334.76 L67,333.77 L67.5,333.44 L68,331.83 L68.5,329.73 L69,326.83 L69.5,323.47 L70,319.67 L70.5,315.69 L71,311.38 L71.5,307.37 L72,302.96 L72.5,299.85 L73,297.06 L73.5,295.39 L74,293.46 L74.5,291.95 L75,291.43 L75.5,291.63 L76,291.56 L76.5,291.91 L77,293.73 L77.5,295.49 L78,297.6 L78.5,299.98 L79,303.16 L79.5,307.6 L80,311.79 L80.5,316.07 L81,320.27 L81.5,324.03 L82,327.74 L82.5,330.32 L83,332.51 L83.5,333.24 L84,334.4 L84.5,335.53 L85,335.08 L85.5,336.02 L86,335.85 L86.5,335.36 L87,335.56 L87.5,335.63 L88,335.91 L88.5,336.14 L89,335.76 L89.5,336.25 L90,336.18 L90.5,336.03 L91,336.36 L91.5,336.05 L92,335.71 L92.5,335.81 L93,336 L93.5,335.82 L94,335.92 L94.5,336.15 L95,335.68 L95.5,335.8 L96,335.44 L96.5,335.23 L97,335.61 L97.5,335.42 L98,335.21 L98.5,335.44 L99,335.56 L99.5,335.06 L100,334.86 L100.5,334.9 L101,334.91 L101.5,334.71 L102,334.81 L102.5,334.79 L103,334.9 L103.5,334.97 L104,334.63 L104.5,335.08 L105,334.86 L105.5,334.6 L106,334.74 L106.5,334.89 L107,335.3 L107.5,335.21 L108,335.26 L108.5,335.18 L109,335.44 L109.5,335.28 L110,335.12 L110.5,335.86 L111,335.51 L111.5,335.47 L112,335.89 L112.5,335.87 L113,335.51 L113.5,336.42 L114,336.04 L114.5,336.46 L115,335.97 L115.5,335.9 L116,336.35 L116.5,336.8 L117,336.45 L117.5,336.55 L118,336.46 L118.5,336.72 L119,336.67 L119.5,336.54 L120,336.86 L120.5,336.99 L121,336.55 L121.5,337.25 L122,336.86 L122.5,337.16 L123,336.86 L123.5,337.48 L124,336.74 L124.5,337.34 L125,337.65 L125.5,337.49 L126,337.42 L126.5,337.8 L127,337.48 L127.5,337.51 L128,337.3 L128.5,337.65 L129,337.76 L129.5,337.84 L130,337.41 L130.5,337.27 L131,337.68 L131.5,337.99 L132,337.51 L132.5,337.91 L133,338.11 L133.5,338.23 L134,337.65 L134.5,337.62 L135,337.78 L135.5,337.93 L136,337.85 L136.5,338.15 L137,337.49 L137.5,338.04 L138,337.79 L138.5,337.63 L139,337.63 L139.5,337.95 L140,338.1 L140.5,337.88 L141,338.26 L141.5,337.62 L142,338.05 L142.5,337.61 L143,338.14 L143.5,338.04 L144,338.15 L144.5,338 L145,338.22 L145.5,338.38 L146,337.74 L146.5,338.13 L147,338.17 L147.5,338.12 L148,337.96 L148.5,338.01 L149,337.82 L149.5,337.8 L150,338.07 L150.5,337.56 L151,337.63 L151.5,338.35 L152,337.66 L152.5,337.59 L153,337.7 L153.5,338.28 L154,337.66 L154.5,337.84 L155,338.4 L155.5,338.4 L156,337.56 L156.5,337.83 L157,338.19 L157.5,338.33 L158,338.29 L158.5,338.21 L159,337.72 L159.5,338.11 L160,338.29 L160.5,337.61 L161,337.72 L161.5,338.28 L162,337.63 L162.5,337.89 L163,337.73 L163.5,337.83 L164,337.63 L164.5,337.73 L165,337.69 L165.5,338.26 L166,337.82 L166.5,337.97 L167,337.78 L167.5,338.05 L168,337.65 L168.5,337.95 L169,338.21 L169.5,338.24 L170,338.33 L170.5,338.01 L171,338.4 L171.5,338.04 L172,338.33 L172.5,338.02 L173,338.01 L173.5,337.98 L174,337.69 L174.5,338.46 L175,337.71 L175.5,338.05 L176,337.97 L176.5,337.87 L177,337.72 L177.5,338.14 L178,338.1 L178.5,337.61 L179,338.41 L179.5,337.91 L180,337.91 L180.5,338.46 L181,337.94 L181.5,337.87 L182,337.65 L182.5,338.19 L183,337.61 L183.5,338.03 L184,338.06 L184.5,337.69 L185,338.47 L185.5,337.85 L186,337.94 L186.5,338.2 L187,337.73 L187.5,338.18 L188,338.08 L188.5,338.03 L189,337.82 L189.5,338.32 L190,338.12 L190.5,338.13 L191,338.02 L191.5,337.77 L192,338.25 L192.5,337.77 L193,338.16 L193.5,338.07 L194,338.28 L194.5,338.07 L195,337.65 L195.5,337.94 L196,337.82 L196.5,338.23 L197,338.25 L197.5,338.26 L198,338.01 L198.5,337.97 L199,337.83 L199.5,338.5 L200,337.89 L200.5,337.75 L201,338.05 L201.5,338.5 L202,338.28 L202.5,338.5 L203,338.38 L203.5,337.72 L204,338 L204.5,337.96 L205,337.85 L205.5,337.74 L206,338.01 L206.5,338 L207,338 L207.5,337.94 L208,338.03 L208.5,337.95 L209,338.38 L209.5,337.97 L210,338.16 L210.5,337.88 L211,338.48 L211.5,338.41 L212,338.5 L212.5,337.88 L213,337.76 L213.5,337.99 L214,338.25 L214.5,337.84 L215,337.88 L215.5,338.08 L216,338.35 L216.5,338.32 L217,338.21 L217.5,338.3 L218,338.2 L218.5,338.02 L219,337.75 L219.5,338.5 L220,338.09 L220.5,338.5 L221,338.49 L221.5,337.87 L222,338.09 L222.5,337.78 L223,338.21 L223.5,338.5 L224,338.26 L224.5,338.08 L225,337.77 L225.5,337.73 L226,338.19 L226.5,338.25 L227,338.5 L227.5,338.04 L228,338.43 L228.5,338.49 L229,338.5 L229.5,338.5 L230,338.01 L230.5,338.5 L231,337.76 L231.5,338.5 L232,337.85 L232.5,338.5 L233,338.5 L233.5,337.99 L234,338.42 L234.5,337.98 L235,338.47 L235.5,338.5 L236,337.95 L236.5,338 L237,337.88 L237.5,337.99 L238,338.5 L238,339.2 Z" fill="#5308d6" stroke="#22085a" stroke-width="1.1" stroke-linejoin="round"/>
<path d="M241,339.2V323.2" stroke="#111" stroke-width="2"/>
<path d="M33,339.2H241" stroke="#101010" stroke-width="2.1" fill="none"/>
<path d="M36,339.2V341.4 M46,339.2V340.4 M56,339.2V340.4 M66,339.2V340.4 M76,339.2V341.4 M86,339.2V340.4 M96,339.2V340.4 M106,339.2V340.4 M116,339.2V341.4 M126,339.2V340.4 M136,339.2V340.4 M146,339.2V340.4 M156,339.2V341.4 M166,339.2V340.4 M176,339.2V340.4 M186,339.2V340.4 M196,339.2V341.4 M206,339.2V340.4 M216,339.2V340.4 M226,339.2V340.4 M236,339.2V341.4" stroke="#222" stroke-width="0.9"/>
<path d="M36,209V340.2" stroke="#000" stroke-width="2" fill="none"/>
<path d="M35.8,263.75V339.2" stroke="#000" stroke-width="3.4" fill="none"/>
<path d="M31.4,339.2H36 M33.4,335.95H36 M33.4,332.7H36 M33.4,329.45H36 M33.4,326.2H36 M33.4,322.95H36 M33.4,319.7H36 M33.4,316.45H36 M31.4,313.2H36 M33.4,309.95H36 M33.4,306.7H36 M33.4,303.45H36 M33.4,300.2H36 M33.4,296.95H36 M33.4,293.7H36 M33.4,290.45H36 M31.4,287.2H36 M33.4,283.95H36 M33.4,280.7H36 M33.4,277.45H36 M33.4,274.2H36 M33.4,270.95H36 M33.4,267.7H36 M33.4,264.45H36 M31.4,261.2H36 M33.4,257.95H36 M33.4,254.7H36 M33.4,251.45H36 M33.4,248.2H36 M33.4,244.95H36 M33.4,241.7H36 M33.4,238.45H36 M31.4,235.2H36 M33.4,231.95H36 M33.4,228.7H36 M33.4,225.45H36 M33.4,222.2H36 M33.4,218.95H36 M33.4,215.7H36 M33.4,212.45H36 M31.4,209.2H36" stroke="#000" stroke-width="1.1"/>
<clipPath id="c36"><rect x="-4" y="208.7" width="40" height="200"/></clipPath>
<text transform="translate(24.7,339.2) rotate(-90) scale(1,1.3)" font-family="Liberation Sans" font-size="6.8" fill="#2a2a2a" stroke="#2a2a2a" stroke-width="0.2" text-anchor="middle">0</text>
<text transform="translate(24.7,313.2) rotate(-90) scale(1,1.3)" font-family="Liberation Sans" font-size="6.8" fill="#2a2a2a" stroke="#2a2a2a" stroke-width="0.2" text-anchor="middle">80</text>
<text transform="translate(24.7,287.2) rotate(-90) scale(1,1.3)" font-family="Liberation Sans" font-size="6.8" fill="#2a2a2a" stroke="#2a2a2a" stroke-width="0.2" text-anchor="middle">160</text>
<text transform="translate(24.7,261.2) rotate(-90) scale(1,1.3)" font-family="Liberation Sans" font-size="6.8" fill="#2a2a2a" stroke="#2a2a2a" stroke-width="0.2" text-anchor="middle">240</text>
<text transform="translate(24.7,235.2) rotate(-90) scale(1,1.3)" font-family="Liberation Sans" font-size="6.8" fill="#2a2a2a" stroke="#2a2a2a" stroke-width="0.2" text-anchor="middle">320</text>
<g clip-path="url(#c36)"><text transform="translate(24.7,211.5) rotate(-90) scale(1,1.3)" font-family="Liberation Sans" font-size="6.8" fill="#2a2a2a" stroke="#2a2a2a" stroke-width="0.2" text-anchor="middle">400</text></g>
<text transform="translate(14.4,275.8) rotate(-90) scale(1,1.2)" font-family="Liberation Sans" font-size="6.8" fill="#2a2a2a" stroke="#2a2a2a" stroke-width="0.15" text-anchor="middle">Counts</text>
<text transform="translate(36,350.5) scale(1.45,1)" font-family="Liberation Sans" font-size="6.8" font-weight="normal" fill="#2a2a2a" text-anchor="middle" stroke="#2a2a2a" stroke-width="0.2">0</text>
<text transform="translate(76,350.5) scale(1.45,1)" font-family="Liberation Sans" font-size="6.8" font-weight="normal" fill="#2a2a2a" text-anchor="middle" stroke="#2a2a2a" stroke-width="0.2">200</text>
<text transform="translate(116,350.5) scale(1.45,1)" font-family="Liberation Sans" font-size="6.8" font-weight="normal" fill="#2a2a2a" text-anchor="middle" stroke="#2a2a2a" stroke-width="0.2">400</text>
<text transform="translate(156,350.5) scale(1.45,1)" font-family="Liberation Sans" font-size="6.8" font-weight="normal" fill="#2a2a2a" text-anchor="middle" stroke="#2a2a2a" stroke-width="0.2">600</text>
<text transform="translate(196,350.5) scale(1.45,1)" font-family="Liberation Sans" font-size="6.8" font-weight="normal" fill="#2a2a2a" text-anchor="middle" stroke="#2a2a2a" stroke-width="0.2">800</text>
<text transform="translate(236,350.5) scale(1.45,1)" font-family="Liberation Sans" font-size="6.8" font-weight="normal" fill="#2a2a2a" text-anchor="middle" stroke="#2a2a2a" stroke-width="0.2">1000</text>
<text transform="translate(135.5,356.9) scale(1.45,1)" font-family="Liberation Sans" font-size="6.8" font-weight="normal" fill="#2a2a2a" text-anchor="middle" stroke="#2a2a2a" stroke-width="0.2">FL2-A</text>
<text transform="translate(230.8,222.6) scale(1.48,1)" font-family="Liberation Serif" font-size="10.3" font-weight="bold" fill="#111" text-anchor="end" >6 µg/ml</text>
<path d="M36,303.75H68.75M36,297.75V309.75M68.75,297.75V309.75" stroke="#3a3a3a" stroke-width="1.1" fill="none"/>
<path d="M69.4,256.6H89.4M69.4,250.6V262.6M89.4,250.6V262.6" stroke="#3a3a3a" stroke-width="1.1" fill="none"/>
<path d="M88.75,287.5H105M88.75,281.5V293.5M105,281.5V293.5" stroke="#3a3a3a" stroke-width="1.1" fill="none"/>
<path d="M104.25,317H127.6M104.25,311V323M127.6,311V323" stroke="#3a3a3a" stroke-width="1.1" fill="none"/>
<text transform="translate(53,311.7) scale(1.68,1)" font-family="Liberation Sans" font-size="6" font-weight="normal" fill="#2a2a2a" text-anchor="start" stroke="#2a2a2a" stroke-width="0.2">M1</text>
<text transform="translate(80,264.7) scale(1.68,1)" font-family="Liberation Sans" font-size="6" font-weight="normal" fill="#2a2a2a" text-anchor="start" stroke="#2a2a2a" stroke-width="0.2">M2</text>
<text transform="translate(96,295.3) scale(1.68,1)" font-family="Liberation Sans" font-size="6" font-weight="normal" fill="#2a2a2a" text-anchor="start" stroke="#2a2a2a" stroke-width="0.2">M3</text>
<text transform="translate(117,323.7) scale(1.68,1)" font-family="Liberation Sans" font-size="6" font-weight="normal" fill="#2a2a2a" text-anchor="start" stroke="#2a2a2a" stroke-width="0.2">M4</text>
<text transform="translate(43,290) scale(1.72,1)" font-family="Liberation Serif" font-size="7.4" font-weight="bold" fill="#2a2a2a" text-anchor="start" >8.9*%</text>
<path d="M108.75,205H147.75" stroke="#bbb" stroke-width="1.2" stroke-dasharray="3,2.5"/>
<path d="M311,206H513" stroke="#7a7a7a" stroke-width="1.2" fill="none"/>
<path d="M513,206V335.8" stroke="#6c6c6c" stroke-width="2" fill="none"/>
<path d="M311,335.8 L311,322.68 L311.5,322.91 L312,323.44 L312.5,323.32 L313,324.23 L313.5,323.9 L314,324.42 L314.5,325.36 L315,325.66 L315.5,325.39 L316,325.54 L316.5,326.51 L317,326.61 L317.5,326.53 L318,327.3 L318.5,326.93 L319,327.52 L319.5,328.15 L320,328.13 L320.5,328.19 L321,328.57 L321.5,328.6 L322,329.33 L322.5,329 L323,329.64 L323.5,329.64 L324,329.9 L324.5,330.34 L325,330.63 L325.5,330.52 L326,330.53 L326.5,330.74 L327,331.01 L327.5,331.32 L328,331.6 L328.5,330.84 L329,331.15 L329.5,331.11 L330,331.62 L330.5,331.44 L331,331.17 L331.5,331.37 L332,331.64 L332.5,331.97 L333,331.93 L333.5,331.58 L334,332.11 L334.5,331.9 L335,332.04 L335.5,331.84 L336,331.92 L336.5,332.4 L337,332.65 L337.5,332.41 L338,332.27 L338.5,332.12 L339,331.91 L339.5,331.85 L340,332.6 L340.5,331.86 L341,331.8 L341.5,331.58 L342,331.52 L342.5,331.19 L343,329.69 L343.5,328.23 L344,326.26 L344.5,323.35 L345,320.65 L345.5,317.31 L346,313.2 L346.5,309.41 L347,306.72 L347.5,303.45 L348,301.02 L348.5,299.87 L349,298.24 L349.5,297.34 L350,297.14 L350.5,297.37 L351,297.7 L351.5,298.07 L352,299.32 L352.5,301.38 L353,303.96 L353.5,306.07 L354,309.32 L354.5,313.36 L355,316.72 L355.5,320 L356,323.21 L356.5,326.22 L357,328.33 L357.5,329.71 L358,331.04 L358.5,331.62 L359,331.94 L359.5,331.63 L360,332 L360.5,331.84 L361,331.99 L361.5,331.88 L362,332.2 L362.5,332.29 L363,331.43 L363.5,331.98 L364,332.21 L364.5,331.73 L365,331.59 L365.5,332.15 L366,331.74 L366.5,331.96 L367,331.8 L367.5,332.24 L368,332.22 L368.5,331.31 L369,331.38 L369.5,331.67 L370,331.55 L370.5,331.78 L371,331.27 L371.5,331.54 L372,331.03 L372.5,331.14 L373,331.05 L373.5,330.88 L374,331.47 L374.5,331.62 L375,331.42 L375.5,331.4 L376,331.44 L376.5,331.42 L377,330.92 L377.5,330.59 L378,330.97 L378.5,330.6 L379,330.7 L379.5,331.52 L380,331.11 L380.5,331.35 L381,331.67 L381.5,330.98 L382,331.68 L382.5,331.47 L383,331.46 L383.5,331.24 L384,331.57 L384.5,331.88 L385,331.9 L385.5,332.22 L386,331.56 L386.5,331.61 L387,332.36 L387.5,332.6 L388,332.47 L388.5,332.44 L389,332.01 L389.5,332.08 L390,332.2 L390.5,332.98 L391,332.39 L391.5,332.53 L392,332.66 L392.5,332.43 L393,333.34 L393.5,333.33 L394,332.85 L394.5,332.76 L395,333.07 L395.5,333.48 L396,333.29 L396.5,333.22 L397,333.88 L397.5,333.75 L398,333.89 L398.5,334.08 L399,333.83 L399.5,334.18 L400,334.19 L400.5,334.35 L401,333.95 L401.5,334.62 L402,334.06 L402.5,334.6 L403,334.82 L403.5,334.09 L404,334.75 L404.5,334.11 L405,334.17 L405.5,334.16 L406,334.83 L406.5,334.56 L407,334.87 L407.5,334.12 L408,334.2 L408.5,334.4 L409,334.56 L409.5,334.66 L410,334.23 L410.5,334.54 L411,334.4 L411.5,334.84 L412,334.77 L412.5,334.92 L413,334.33 L413.5,334.48 L414,334.85 L414.5,334.2 L415,334.74 L415.5,334.61 L416,334.84 L416.5,334.74 L417,334.23 L417.5,334.69 L418,334.84 L418.5,334.55 L419,334.71 L419.5,334.18 L420,334.89 L420.5,334.12 L421,334.95 L421.5,334.19 L422,334.4 L422.5,334.81 L423,334.57 L423.5,334.75 L424,334.77 L424.5,334.83 L425,334.68 L425.5,334.12 L426,334.11 L426.5,334.18 L427,334.93 L427.5,334.75 L428,334.21 L428.5,334.97 L429,334.37 L429.5,334.76 L430,334.14 L430.5,335.01 L431,334.3 L431.5,334.72 L432,334.9 L432.5,335.03 L433,334.28 L433.5,334.56 L434,334.87 L434.5,334.64 L435,334.22 L435.5,334.84 L436,334.52 L436.5,334.92 L437,334.88 L437.5,334.35 L438,334.4 L438.5,334.87 L439,334.98 L439.5,334.97 L440,334.5 L440.5,334.61 L441,334.81 L441.5,334.87 L442,334.5 L442.5,334.42 L443,334.33 L443.5,334.53 L444,334.88 L444.5,335 L445,334.4 L445.5,334.7 L446,334.42 L446.5,335.02 L447,334.34 L447.5,334.77 L448,334.31 L448.5,334.29 L449,334.63 L449.5,335.06 L450,334.26 L450.5,334.65 L451,334.3 L451.5,334.84 L452,334.92 L452.5,334.34 L453,334.75 L453.5,334.94 L454,334.75 L454.5,334.55 L455,335.09 L455.5,334.62 L456,334.69 L456.5,334.63 L457,334.99 L457.5,334.45 L458,334.36 L458.5,334.32 L459,334.81 L459.5,334.46 L460,334.76 L460.5,334.43 L461,335.05 L461.5,334.32 L462,334.25 L462.5,334.67 L463,334.65 L463.5,334.64 L464,334.63 L464.5,335.1 L465,334.25 L465.5,334.92 L466,334.96 L466.5,335.03 L467,334.9 L467.5,334.39 L468,335.1 L468.5,335.04 L469,334.5 L469.5,334.96 L470,335.1 L470.5,334.59 L471,334.62 L471.5,334.67 L472,334.51 L472.5,335.05 L473,334.36 L473.5,334.5 L474,335.1 L474.5,335.03 L475,334.7 L475.5,334.7 L476,334.9 L476.5,335.04 L477,334.79 L477.5,335.03 L478,334.62 L478.5,334.38 L479,335.02 L479.5,334.64 L480,334.49 L480.5,335.01 L481,334.42 L481.5,334.32 L482,334.82 L482.5,334.79 L483,334.41 L483.5,334.7 L484,334.81 L484.5,334.32 L485,334.47 L485.5,334.87 L486,334.96 L486.5,334.88 L487,334.79 L487.5,334.3 L488,334.46 L488.5,334.36 L489,334.45 L489.5,334.42 L490,335.1 L490.5,334.72 L491,334.33 L491.5,334.35 L492,334.97 L492.5,334.81 L493,334.63 L493.5,334.87 L494,334.72 L494.5,335.1 L495,334.81 L495.5,334.75 L496,335.1 L496.5,335.08 L497,334.33 L497.5,334.51 L498,334.37 L498.5,334.64 L499,334.48 L499.5,334.42 L500,334.42 L500.5,335.1 L501,334.64 L501.5,334.98 L502,334.61 L502.5,334.98 L503,334.73 L503.5,334.39 L504,334.67 L504.5,335 L505,334.76 L505.5,334.84 L506,334.38 L506.5,334.97 L507,334.96 L507.5,334.65 L508,335.1 L508.5,334.7 L509,334.38 L509.5,334.78 L510,335 L510.5,334.82 L511,334.76 L511.5,335.1 L512,335.1 L512.5,335.1 L513,334.99 L513,335.8 Z" fill="#5308d6" stroke="#22085a" stroke-width="1.1" stroke-linejoin="round"/>
<path d="M513,335.8V330.8" stroke="#111" stroke-width="2"/>
<path d="M308,335.8H513" stroke="#101010" stroke-width="2.1" fill="none"/>
<path d="M311,335.8V338 M320.85,335.8V337 M330.7,335.8V337 M340.55,335.8V337 M350.4,335.8V338 M360.25,335.8V337 M370.1,335.8V337 M379.95,335.8V337 M389.8,335.8V338 M399.65,335.8V337 M409.5,335.8V337 M419.35,335.8V337 M429.2,335.8V338 M439.05,335.8V337 M448.9,335.8V337 M458.75,335.8V337 M468.6,335.8V338 M478.45,335.8V337 M488.3,335.8V337 M498.15,335.8V337 M508,335.8V338" stroke="#222" stroke-width="0.9"/>
<path d="M311,206V336.8" stroke="#000" stroke-width="2" fill="none"/>
<path d="M310.8,251V335.8" stroke="#000" stroke-width="3.4" fill="none"/>
<path d="M306.4,335.8H311 M308.4,332.55H311 M308.4,329.3H311 M308.4,326.05H311 M308.4,322.8H311 M308.4,319.55H311 M308.4,316.3H311 M308.4,313.05H311 M306.4,309.8H311 M308.4,306.55H311 M308.4,303.3H311 M308.4,300.05H311 M308.4,296.8H311 M308.4,293.55H311 M308.4,290.3H311 M308.4,287.05H311 M306.4,283.8H311 M308.4,280.55H311 M308.4,277.3H311 M308.4,274.05H311 M308.4,270.8H311 M308.4,267.55H311 M308.4,264.3H311 M308.4,261.05H311 M306.4,257.8H311 M308.4,254.55H311 M308.4,251.3H311 M308.4,248.05H311 M308.4,244.8H311 M308.4,241.55H311 M308.4,238.3H311 M308.4,235.05H311 M306.4,231.8H311 M308.4,228.55H311 M308.4,225.3H311 M308.4,222.05H311 M308.4,218.8H311 M308.4,215.55H311 M308.4,212.3H311 M308.4,209.05H311 M306.4,205.8H311" stroke="#000" stroke-width="1.1"/>
<clipPath id="c311"><rect x="271" y="205.7" width="40" height="200"/></clipPath>
<text transform="translate(299.7,335.8) rotate(-90) scale(1,1.3)" font-family="Liberation Sans" font-size="6.8" fill="#2a2a2a" stroke="#2a2a2a" stroke-width="0.2" text-anchor="middle">0</text>
<text transform="translate(299.7,309.8) rotate(-90) scale(1,1.3)" font-family="Liberation Sans" font-size="6.8" fill="#2a2a2a" stroke="#2a2a2a" stroke-width="0.2" text-anchor="middle">80</text>
<text transform="translate(299.7,283.8) rotate(-90) scale(1,1.3)" font-family="Liberation Sans" font-size="6.8" fill="#2a2a2a" stroke="#2a2a2a" stroke-width="0.2" text-anchor="middle">160</text>
<text transform="translate(299.7,257.8) rotate(-90) scale(1,1.3)" font-family="Liberation Sans" font-size="6.8" fill="#2a2a2a" stroke="#2a2a2a" stroke-width="0.2" text-anchor="middle">240</text>
<text transform="translate(299.7,231.8) rotate(-90) scale(1,1.3)" font-family="Liberation Sans" font-size="6.8" fill="#2a2a2a" stroke="#2a2a2a" stroke-width="0.2" text-anchor="middle">320</text>
<g clip-path="url(#c311)"><text transform="translate(299.7,208.1) rotate(-90) scale(1,1.3)" font-family="Liberation Sans" font-size="6.8" fill="#2a2a2a" stroke="#2a2a2a" stroke-width="0.2" text-anchor="middle">400</text></g>
<text transform="translate(289.4,272.4) rotate(-90) scale(1,1.2)" font-family="Liberation Sans" font-size="6.8" fill="#2a2a2a" stroke="#2a2a2a" stroke-width="0.15" text-anchor="middle">Counts</text>
<text transform="translate(311,348.1) scale(1.45,1)" font-family="Liberation Sans" font-size="6.8" font-weight="normal" fill="#2a2a2a" text-anchor="middle" stroke="#2a2a2a" stroke-width="0.2">0</text>
<text transform="translate(350.4,348.1) scale(1.45,1)" font-family="Liberation Sans" font-size="6.8" font-weight="normal" fill="#2a2a2a" text-anchor="middle" stroke="#2a2a2a" stroke-width="0.2">200</text>
<text transform="translate(389.8,348.1) scale(1.45,1)" font-family="Liberation Sans" font-size="6.8" font-weight="normal" fill="#2a2a2a" text-anchor="middle" stroke="#2a2a2a" stroke-width="0.2">400</text>
<text transform="translate(429.2,348.1) scale(1.45,1)" font-family="Liberation Sans" font-size="6.8" font-weight="normal" fill="#2a2a2a" text-anchor="middle" stroke="#2a2a2a" stroke-width="0.2">600</text>
<text transform="translate(468.6,348.1) scale(1.45,1)" font-family="Liberation Sans" font-size="6.8" font-weight="normal" fill="#2a2a2a" text-anchor="middle" stroke="#2a2a2a" stroke-width="0.2">800</text>
<text transform="translate(508,348.1) scale(1.45,1)" font-family="Liberation Sans" font-size="6.8" font-weight="normal" fill="#2a2a2a" text-anchor="middle" stroke="#2a2a2a" stroke-width="0.2">1000</text>
<text transform="translate(410.5,355.3) scale(1.45,1)" font-family="Liberation Sans" font-size="6.8" font-weight="normal" fill="#2a2a2a" text-anchor="middle" stroke="#2a2a2a" stroke-width="0.2">FL2-A</text>
<text transform="translate(508,218) scale(1.48,1)" font-family="Liberation Serif" font-size="10.3" font-weight="bold" fill="#111" text-anchor="end" >8  µg/ml</text>
<path d="M311,300.4H343.5M311,294.4V306.4M343.5,294.4V306.4" stroke="#3a3a3a" stroke-width="1.1" fill="none"/>
<path d="M343.75,253.5H363.75M343.75,247.5V259.5M363.75,247.5V259.5" stroke="#3a3a3a" stroke-width="1.1" fill="none"/>
<path d="M362.5,283.75H378.75M362.5,277.75V289.75M378.75,277.75V289.75" stroke="#3a3a3a" stroke-width="1.1" fill="none"/>
<path d="M377.4,313.75H401.4M377.4,307.75V319.75M401.4,307.75V319.75" stroke="#3a3a3a" stroke-width="1.1" fill="none"/>
<text transform="translate(319.4,290.6) scale(1.68,1)" font-family="Liberation Sans" font-size="6.6" font-weight="normal" fill="#2a2a2a" text-anchor="start" stroke="#2a2a2a" stroke-width="0.2">M1</text>
<text transform="translate(344.4,240.6) scale(1.68,1)" font-family="Liberation Sans" font-size="6.6" font-weight="normal" fill="#2a2a2a" text-anchor="start" stroke="#2a2a2a" stroke-width="0.2">M2</text>
<text transform="translate(362,276) scale(1.68,1)" font-family="Liberation Sans" font-size="6.6" font-weight="normal" fill="#2a2a2a" text-anchor="start" stroke="#2a2a2a" stroke-width="0.2">M3</text>
<text transform="translate(382,305.6) scale(1.68,1)" font-family="Liberation Sans" font-size="6.6" font-weight="normal" fill="#2a2a2a" text-anchor="start" stroke="#2a2a2a" stroke-width="0.2">M4</text>
<text transform="translate(320,276.9) scale(1.42,1)" font-family="Liberation Serif" font-size="7.4" font-weight="bold" fill="#2a2a2a" text-anchor="start" >10.1*%</text>
<path d="M581.75,209H787" stroke="#7a7a7a" stroke-width="1.2" fill="none"/>
<path d="M787,209V339" stroke="#6c6c6c" stroke-width="2" fill="none"/>
<path d="M581.75,339 L581.75,319.58 L582.25,320.46 L582.75,321.26 L583.25,322.17 L583.75,322.52 L584.25,323.02 L584.75,323.99 L585.25,324.79 L585.75,325.48 L586.25,326.46 L586.75,326.38 L587.25,326.98 L587.75,327.28 L588.25,327.59 L588.75,328.1 L589.25,328.62 L589.75,329.06 L590.25,329.45 L590.75,329.57 L591.25,330.06 L591.75,330.26 L592.25,331.15 L592.75,331.12 L593.25,330.85 L593.75,331.6 L594.25,331.5 L594.75,331.74 L595.25,332.11 L595.75,331.66 L596.25,332.47 L596.75,332.22 L597.25,332.96 L597.75,333.23 L598.25,332.69 L598.75,333.26 L599.25,333.76 L599.75,333.6 L600.25,333.68 L600.75,333.55 L601.25,334.24 L601.75,334.27 L602.25,333.74 L602.75,334.07 L603.25,334.72 L603.75,334.69 L604.25,334.81 L604.75,334.65 L605.25,334.83 L605.75,334.69 L606.25,334.71 L606.75,334.98 L607.25,334.79 L607.75,334.78 L608.25,334.77 L608.75,335.02 L609.25,334.74 L609.75,334.81 L610.25,334.63 L610.75,335.34 L611.25,334.67 L611.75,335.44 L612.25,334.75 L612.75,334.89 L613.25,334.91 L613.75,334.33 L614.25,334.32 L614.75,333.75 L615.25,332.18 L615.75,330.16 L616.25,327.67 L616.75,324.39 L617.25,320.26 L617.75,315.92 L618.25,311.43 L618.75,307.94 L619.25,304.56 L619.75,301.77 L620.25,299.9 L620.75,298.48 L621.25,297.08 L621.75,296.5 L622.25,296.71 L622.75,297.02 L623.25,297.96 L623.75,299.02 L624.25,300.85 L624.75,302.73 L625.25,305.63 L625.75,309.62 L626.25,312.92 L626.75,317.79 L627.25,321.58 L627.75,325.45 L628.25,328.54 L628.75,331.63 L629.25,333.07 L629.75,333.64 L630.25,335 L630.75,335.23 L631.25,334.88 L631.75,334.98 L632.25,334.62 L632.75,334.75 L633.25,334.97 L633.75,334.55 L634.25,334.98 L634.75,334.98 L635.25,334.83 L635.75,335.1 L636.25,335.13 L636.75,334.91 L637.25,335.13 L637.75,334.6 L638.25,334.82 L638.75,334.91 L639.25,335.25 L639.75,334.95 L640.25,334.88 L640.75,334.69 L641.25,334.63 L641.75,334.31 L642.25,334.19 L642.75,334.57 L643.25,334.57 L643.75,334.36 L644.25,333.98 L644.75,334.52 L645.25,334.3 L645.75,334 L646.25,334.53 L646.75,334.36 L647.25,333.72 L647.75,333.81 L648.25,334.09 L648.75,334.45 L649.25,333.74 L649.75,333.93 L650.25,333.81 L650.75,333.66 L651.25,333.75 L651.75,334.17 L652.25,334.41 L652.75,334.29 L653.25,334.09 L653.75,334.1 L654.25,334.38 L654.75,334.39 L655.25,333.98 L655.75,334.01 L656.25,334.23 L656.75,333.66 L657.25,333.98 L657.75,334.51 L658.25,334.18 L658.75,333.84 L659.25,334.27 L659.75,333.93 L660.25,334.55 L660.75,334.28 L661.25,333.79 L661.75,334.02 L662.25,333.95 L662.75,334.55 L663.25,334.54 L663.75,334.75 L664.25,335.26 L664.75,335.18 L665.25,335.54 L665.75,335.38 L666.25,336.02 L666.75,336.42 L667.25,336.94 L667.75,337.03 L668.25,336.61 L668.75,337.32 L669.25,337.45 L669.75,337.51 L670.25,337.32 L670.75,337.17 L671.25,337.48 L671.75,337.43 L672.25,338.22 L672.75,338.3 L673.25,337.83 L673.75,338.3 L674.25,338.01 L674.75,338.3 L675.25,338.3 L675.75,338.3 L676.25,338.3 L676.75,337.84 L677.25,338.13 L677.75,338.3 L678.25,338.25 L678.75,338.3 L679.25,338.3 L679.75,337.85 L680.25,338.13 L680.75,337.79 L681.25,338.25 L681.75,338.09 L682.25,338.3 L682.75,338.3 L683.25,337.81 L683.75,337.88 L684.25,338.3 L684.75,337.84 L685.25,337.92 L685.75,338.3 L686.25,338.11 L686.75,337.79 L687.25,338.2 L687.75,337.8 L688.25,338.3 L688.75,338.3 L689.25,338 L689.75,338.3 L690.25,338.3 L690.75,337.86 L691.25,338.21 L691.75,337.94 L692.25,338.3 L692.75,338.3 L693.25,338.3 L693.75,338.3 L694.25,337.78 L694.75,338.3 L695.25,338.14 L695.75,338.3 L696.25,338.17 L696.75,338.3 L697.25,338.29 L697.75,338.3 L698.25,338.3 L698.75,337.91 L699.25,338.3 L699.75,338.3 L700.25,338.3 L700.75,338.3 L701.25,338.3 L701.75,338.3 L702.25,338.05 L702.75,338.3 L703.25,338.3 L703.75,338.01 L704.25,338.3 L704.75,338.3 L705.25,337.9 L705.75,338.3 L706.25,338.25 L706.75,337.9 L707.25,337.93 L707.75,338.3 L708.25,338.3 L708.75,338 L709.25,338.3 L709.75,337.79 L710.25,338.3 L710.75,337.79 L711.25,338.2 L711.75,338.3 L712.25,338.24 L712.75,338.3 L713.25,338.01 L713.75,338.3 L714.25,337.84 L714.75,338.12 L715.25,338.3 L715.75,338.3 L716.25,338.1 L716.75,338.3 L717.25,337.86 L717.75,338.3 L718.25,338.19 L718.75,338.16 L719.25,338.3 L719.75,337.96 L720.25,338.3 L720.75,338.06 L721.25,338.14 L721.75,338.3 L722.25,338.3 L722.75,338.3 L723.25,338.3 L723.75,337.88 L724.25,338.3 L724.75,338.05 L725.25,338.3 L725.75,338.14 L726.25,338.3 L726.75,338.2 L727.25,338.3 L727.75,338.3 L728.25,338.3 L728.75,338.3 L729.25,338.3 L729.75,338 L730.25,338.3 L730.75,338.29 L731.25,337.83 L731.75,337.95 L732.25,337.86 L732.75,337.87 L733.25,338.3 L733.75,338.3 L734.25,338.3 L734.75,338.04 L735.25,338.05 L735.75,338.3 L736.25,338.28 L736.75,338.06 L737.25,338.02 L737.75,338.3 L738.25,337.89 L738.75,338.3 L739.25,338.08 L739.75,338.3 L740.25,338.3 L740.75,337.83 L741.25,337.99 L741.75,338.01 L742.25,338.3 L742.75,338.3 L743.25,338.3 L743.75,338.3 L744.25,338.3 L744.75,338.3 L745.25,338.3 L745.75,338.3 L746.25,338.08 L746.75,338.3 L747.25,337.89 L747.75,338.14 L748.25,338.01 L748.75,338.3 L749.25,338.26 L749.75,338.03 L750.25,338.3 L750.75,338.3 L751.25,337.9 L751.75,337.95 L752.25,338.3 L752.75,338.3 L753.25,337.88 L753.75,338.1 L754.25,338.3 L754.75,338.3 L755.25,338.3 L755.75,337.94 L756.25,338.3 L756.75,337.83 L757.25,337.98 L757.75,338.3 L758.25,338.02 L758.75,338.3 L759.25,337.98 L759.75,337.9 L760.25,338.3 L760.75,338.3 L761.25,337.8 L761.75,338.27 L762.25,337.81 L762.75,338.03 L763.25,337.99 L763.75,337.9 L764.25,338.08 L764.75,338.24 L765.25,338.3 L765.75,338.02 L766.25,338.26 L766.75,338.19 L767.25,337.81 L767.75,338.3 L768.25,337.96 L768.75,338.3 L769.25,338.02 L769.75,337.92 L770.25,338.3 L770.75,338.16 L771.25,337.78 L771.75,338.08 L772.25,338.16 L772.75,338.3 L773.25,338.3 L773.75,338.3 L774.25,338.28 L774.75,338.3 L775.25,338.3 L775.75,338.3 L776.25,338.01 L776.75,338.05 L777.25,338.3 L777.75,338.3 L778.25,338.19 L778.75,338.25 L779.25,337.81 L779.75,338.3 L780.25,338.3 L780.75,337.85 L781.25,338.3 L781.75,338.14 L782.25,338.3 L782.75,337.92 L783.25,338.16 L783.75,337.97 L783.75,339 Z" fill="#5308d6" stroke="#22085a" stroke-width="1.1" stroke-linejoin="round"/>
<path d="M787,339V335" stroke="#111" stroke-width="2"/>
<path d="M578.75,339H787" stroke="#101010" stroke-width="2.1" fill="none"/>
<path d="M581.75,339V341.2 M591.73,339V340.2 M601.7,339V340.2 M611.67,339V340.2 M621.65,339V341.2 M631.62,339V340.2 M641.6,339V340.2 M651.58,339V340.2 M661.55,339V341.2 M671.52,339V340.2 M681.5,339V340.2 M691.48,339V340.2 M701.45,339V341.2 M711.42,339V340.2 M721.4,339V340.2 M731.38,339V340.2 M741.35,339V341.2 M751.33,339V340.2 M761.3,339V340.2 M771.27,339V340.2 M781.25,339V341.2" stroke="#222" stroke-width="0.9"/>
<path d="M581.75,209V340" stroke="#000" stroke-width="2" fill="none"/>
<path d="M581.55,252.5V339" stroke="#000" stroke-width="3.4" fill="none"/>
<path d="M577.15,339H581.75 M579.15,335.75H581.75 M579.15,332.5H581.75 M579.15,329.25H581.75 M579.15,326H581.75 M579.15,322.75H581.75 M579.15,319.5H581.75 M579.15,316.25H581.75 M577.15,313H581.75 M579.15,309.75H581.75 M579.15,306.5H581.75 M579.15,303.25H581.75 M579.15,300H581.75 M579.15,296.75H581.75 M579.15,293.5H581.75 M579.15,290.25H581.75 M577.15,287H581.75 M579.15,283.75H581.75 M579.15,280.5H581.75 M579.15,277.25H581.75 M579.15,274H581.75 M579.15,270.75H581.75 M579.15,267.5H581.75 M579.15,264.25H581.75 M577.15,261H581.75 M579.15,257.75H581.75 M579.15,254.5H581.75 M579.15,251.25H581.75 M579.15,248H581.75 M579.15,244.75H581.75 M579.15,241.5H581.75 M579.15,238.25H581.75 M577.15,235H581.75 M579.15,231.75H581.75 M579.15,228.5H581.75 M579.15,225.25H581.75 M579.15,222H581.75 M579.15,218.75H581.75 M579.15,215.5H581.75 M579.15,212.25H581.75 M577.15,209H581.75" stroke="#000" stroke-width="1.1"/>
<clipPath id="c581"><rect x="541.75" y="208.7" width="40" height="200"/></clipPath>
<text transform="translate(570.45,339) rotate(-90) scale(1,1.3)" font-family="Liberation Sans" font-size="6.8" fill="#2a2a2a" stroke="#2a2a2a" stroke-width="0.2" text-anchor="middle">0</text>
<text transform="translate(570.45,313) rotate(-90) scale(1,1.3)" font-family="Liberation Sans" font-size="6.8" fill="#2a2a2a" stroke="#2a2a2a" stroke-width="0.2" text-anchor="middle">80</text>
<text transform="translate(570.45,287) rotate(-90) scale(1,1.3)" font-family="Liberation Sans" font-size="6.8" fill="#2a2a2a" stroke="#2a2a2a" stroke-width="0.2" text-anchor="middle">160</text>
<text transform="translate(570.45,261) rotate(-90) scale(1,1.3)" font-family="Liberation Sans" font-size="6.8" fill="#2a2a2a" stroke="#2a2a2a" stroke-width="0.2" text-anchor="middle">240</text>
<text transform="translate(570.45,235) rotate(-90) scale(1,1.3)" font-family="Liberation Sans" font-size="6.8" fill="#2a2a2a" stroke="#2a2a2a" stroke-width="0.2" text-anchor="middle">320</text>
<g clip-path="url(#c581)"><text transform="translate(570.45,211.3) rotate(-90) scale(1,1.3)" font-family="Liberation Sans" font-size="6.8" fill="#2a2a2a" stroke="#2a2a2a" stroke-width="0.2" text-anchor="middle">400</text></g>
<text transform="translate(560.15,275.6) rotate(-90) scale(1,1.2)" font-family="Liberation Sans" font-size="6.8" fill="#2a2a2a" stroke="#2a2a2a" stroke-width="0.15" text-anchor="middle">Counts</text>
<text transform="translate(581.75,349.8) scale(1.45,1)" font-family="Liberation Sans" font-size="6.8" font-weight="normal" fill="#2a2a2a" text-anchor="middle" stroke="#2a2a2a" stroke-width="0.2">0</text>
<text transform="translate(621.65,349.8) scale(1.45,1)" font-family="Liberation Sans" font-size="6.8" font-weight="normal" fill="#2a2a2a" text-anchor="middle" stroke="#2a2a2a" stroke-width="0.2">200</text>
<text transform="translate(661.55,349.8) scale(1.45,1)" font-family="Liberation Sans" font-size="6.8" font-weight="normal" fill="#2a2a2a" text-anchor="middle" stroke="#2a2a2a" stroke-width="0.2">400</text>
<text transform="translate(701.45,349.8) scale(1.45,1)" font-family="Liberation Sans" font-size="6.8" font-weight="normal" fill="#2a2a2a" text-anchor="middle" stroke="#2a2a2a" stroke-width="0.2">600</text>
<text transform="translate(741.35,349.8) scale(1.45,1)" font-family="Liberation Sans" font-size="6.8" font-weight="normal" fill="#2a2a2a" text-anchor="middle" stroke="#2a2a2a" stroke-width="0.2">800</text>
<text transform="translate(781.25,349.8) scale(1.45,1)" font-family="Liberation Sans" font-size="6.8" font-weight="normal" fill="#2a2a2a" text-anchor="middle" stroke="#2a2a2a" stroke-width="0.2">1000</text>
<text transform="translate(681.25,355.8) scale(1.45,1)" font-family="Liberation Sans" font-size="6.8" font-weight="normal" fill="#2a2a2a" text-anchor="middle" stroke="#2a2a2a" stroke-width="0.2">FL2-A</text>
<text transform="translate(778.4,222.4) scale(1.48,1)" font-family="Liberation Serif" font-size="10.3" font-weight="bold" fill="#111" text-anchor="end" >10 µg/ml</text>
<path d="M581.75,303.75H614.75M581.75,297.75V309.75M614.75,297.75V309.75" stroke="#3a3a3a" stroke-width="1.1" fill="none"/>
<path d="M615,256.9H635M615,250.9V262.9M635,250.9V262.9" stroke="#3a3a3a" stroke-width="1.1" fill="none"/>
<path d="M634.4,287.5H650.6M634.4,281.5V293.5M650.6,281.5V293.5" stroke="#3a3a3a" stroke-width="1.1" fill="none"/>
<path d="M649.8,317.3H673M649.8,311.3V323.3M673,311.3V323.3" stroke="#3a3a3a" stroke-width="1.1" fill="none"/>
<text transform="translate(598.75,310.7) scale(1.68,1)" font-family="Liberation Sans" font-size="6" font-weight="normal" fill="#2a2a2a" text-anchor="start" stroke="#2a2a2a" stroke-width="0.2">M1</text>
<text transform="translate(625,264.4) scale(1.68,1)" font-family="Liberation Sans" font-size="6" font-weight="normal" fill="#2a2a2a" text-anchor="start" stroke="#2a2a2a" stroke-width="0.2">M2</text>
<text transform="translate(642.5,294.4) scale(1.68,1)" font-family="Liberation Sans" font-size="6" font-weight="normal" fill="#2a2a2a" text-anchor="start" stroke="#2a2a2a" stroke-width="0.2">M3</text>
<text transform="translate(662,323.9) scale(1.68,1)" font-family="Liberation Sans" font-size="6" font-weight="normal" fill="#2a2a2a" text-anchor="start" stroke="#2a2a2a" stroke-width="0.2">M4</text>
<text transform="translate(586,295) scale(1.42,1)" font-family="Liberation Serif" font-size="7.4" font-weight="bold" fill="#2a2a2a" text-anchor="start" >11.8*%</text>
<path d="M654.7,206H693.7" stroke="#bbb" stroke-width="1.2" stroke-dasharray="3,2.5"/>
<text transform="translate(12.5,395.1) scale(1.33,1)" font-family="Liberation Serif" font-size="16.8" font-weight="bold" fill="#111" text-anchor="start" >2B</text>
<path d="M99.5,435.08V635.5" stroke="#878787" stroke-width="2.5" fill="none"/>
<path d="M98.3,631.5H693.3V635" stroke="#878787" stroke-width="2.3" fill="none"/>
<path d="M93.2,631.5H99.5 M93.2,603.44H99.5 M93.2,575.38H99.5 M93.2,547.32H99.5 M93.2,519.26H99.5 M93.2,491.2H99.5 M93.2,463.14H99.5 M93.2,435.08H99.5 M197.7,631.5V635.5 M296.8,631.5V635.5 M395.9,631.5V635.5 M495,631.5V635.5 M594.1,631.5V635.5" stroke="#878787" stroke-width="1.6"/>
<text transform="translate(81.5,636.7) scale(1.26,1)" font-family="Liberation Serif" font-size="14.2" font-weight="bold" fill="#111" text-anchor="end" >0</text>
<text transform="translate(81.5,608.64) scale(1.26,1)" font-family="Liberation Serif" font-size="14.2" font-weight="bold" fill="#111" text-anchor="end" >2</text>
<text transform="translate(81.5,580.58) scale(1.26,1)" font-family="Liberation Serif" font-size="14.2" font-weight="bold" fill="#111" text-anchor="end" >4</text>
<text transform="translate(81.5,552.52) scale(1.26,1)" font-family="Liberation Serif" font-size="14.2" font-weight="bold" fill="#111" text-anchor="end" >6</text>
<text transform="translate(81.5,524.46) scale(1.26,1)" font-family="Liberation Serif" font-size="14.2" font-weight="bold" fill="#111" text-anchor="end" >8</text>
<text transform="translate(81.5,496.4) scale(1.26,1)" font-family="Liberation Serif" font-size="14.2" font-weight="bold" fill="#111" text-anchor="end" >10</text>
<text transform="translate(81.5,468.34) scale(1.26,1)" font-family="Liberation Serif" font-size="14.2" font-weight="bold" fill="#111" text-anchor="end" >12</text>
<text transform="translate(81.5,440.28) scale(1.26,1)" font-family="Liberation Serif" font-size="14.2" font-weight="bold" fill="#111" text-anchor="end" >14</text>
<rect x="128.75" y="589" width="39" height="42.5" fill="#5c9ef9"/>
<path d="M148.1,585.25V589M144.3,585.25H151.9" stroke="#4a4f5a" stroke-width="1.3" fill="none"/>
<path d="M148.1,589V602.25M144.3,602.25H151.9" stroke="#14409a" stroke-width="1.6" fill="none"/>
<text transform="translate(148.6,653.8) scale(1.15,1)" font-family="Liberation Serif" font-size="14.5" font-weight="bold" fill="#111" text-anchor="middle" >0</text>
<rect x="228.5" y="586.25" width="37.75" height="45.25" fill="#5c9ef9"/>
<path d="M247.25,580.4V586.25M243.45,580.4H251.05" stroke="#4a4f5a" stroke-width="1.3" fill="none"/>
<path d="M247.25,586.25V599.75M243.45,599.75H251.05" stroke="#14409a" stroke-width="1.6" fill="none"/>
<text transform="translate(247.7,653.8) scale(1.15,1)" font-family="Liberation Serif" font-size="14.5" font-weight="bold" fill="#111" text-anchor="middle" >2</text>
<rect x="326.9" y="535.4" width="38.7" height="96.1" fill="#5c9ef9"/>
<path d="M346.5,529.6V535.4M342.7,529.6H350.3" stroke="#4a4f5a" stroke-width="1.3" fill="none"/>
<path d="M346.5,535.4V548.75M342.7,548.75H350.3" stroke="#14409a" stroke-width="1.6" fill="none"/>
<polygon points="346.2,518.91 347.35,520.63 349.92,520.91 348.06,522.25 348.5,524.14 346.2,523.25 343.9,524.14 344.34,522.25 342.48,520.91 345.05,520.63" fill="#2a2a2a" stroke="#2a2a2a" stroke-width="0.6" stroke-linejoin="round"/>
<text transform="translate(346.8,653.8) scale(1.15,1)" font-family="Liberation Serif" font-size="14.5" font-weight="bold" fill="#111" text-anchor="middle" >4</text>
<rect x="426" y="507.25" width="39" height="124.25" fill="#5c9ef9"/>
<path d="M445.25,502.25V507.25M441.45,502.25H449.05" stroke="#4a4f5a" stroke-width="1.3" fill="none"/>
<path d="M445.25,507.25V520.6M441.45,520.6H449.05" stroke="#14409a" stroke-width="1.6" fill="none"/>
<polygon points="445.2,491.91 446.35,493.63 448.92,493.91 447.06,495.25 447.5,497.14 445.2,496.25 442.9,497.14 443.34,495.25 441.48,493.91 444.05,493.63" fill="#2a2a2a" stroke="#2a2a2a" stroke-width="0.6" stroke-linejoin="round"/>
<text transform="translate(445.9,653.8) scale(1.15,1)" font-family="Liberation Serif" font-size="14.5" font-weight="bold" fill="#111" text-anchor="middle" >6</text>
<rect x="524.5" y="490.6" width="38.8" height="140.9" fill="#5c9ef9"/>
<path d="M544.1,478.5V490.6M540.3,478.5H547.9" stroke="#4a4f5a" stroke-width="1.3" fill="none"/>
<path d="M544.1,490.6V504.6M540.3,504.6H547.9" stroke="#14409a" stroke-width="1.6" fill="none"/>
<polygon points="546.4,470.81 547.55,472.53 550.12,472.81 548.26,474.15 548.7,476.04 546.4,475.14 544.1,476.04 544.54,474.15 542.68,472.81 545.25,472.53" fill="#2a2a2a" stroke="#2a2a2a" stroke-width="0.6" stroke-linejoin="round"/>
<text transform="translate(545,653.8) scale(1.15,1)" font-family="Liberation Serif" font-size="14.5" font-weight="bold" fill="#111" text-anchor="middle" >8</text>
<rect x="624" y="466.9" width="38.75" height="164.6" fill="#5c9ef9"/>
<path d="M642.75,453.1V466.9M638.95,453.1H646.55" stroke="#4a4f5a" stroke-width="1.3" fill="none"/>
<path d="M642.75,466.9V480.6M638.95,480.6H646.55" stroke="#14409a" stroke-width="1.6" fill="none"/>
<polygon points="643.6,442.61 644.75,444.33 647.32,444.61 645.46,445.95 645.9,447.84 643.6,446.94 641.3,447.84 641.74,445.95 639.88,444.61 642.45,444.33" fill="#2a2a2a" stroke="#2a2a2a" stroke-width="0.6" stroke-linejoin="round"/>
<text transform="translate(644.1,653.8) scale(1.15,1)" font-family="Liberation Serif" font-size="14.5" font-weight="bold" fill="#111" text-anchor="middle" >10</text>
<text transform="translate(393.2,687) scale(1.21,1)" font-family="Liberation Serif" font-size="19.4" font-weight="bold" fill="#111" text-anchor="middle" >Arsenic Trioxide (µg/ml)</text>
<text transform="translate(44.4,536.4) rotate(-90) scale(1,1.25)" font-family="Liberation Serif" font-size="17.3" font-weight="bold" fill="#111" text-anchor="middle">Sub G1 DNA (%)</text>
</svg></body></html>
